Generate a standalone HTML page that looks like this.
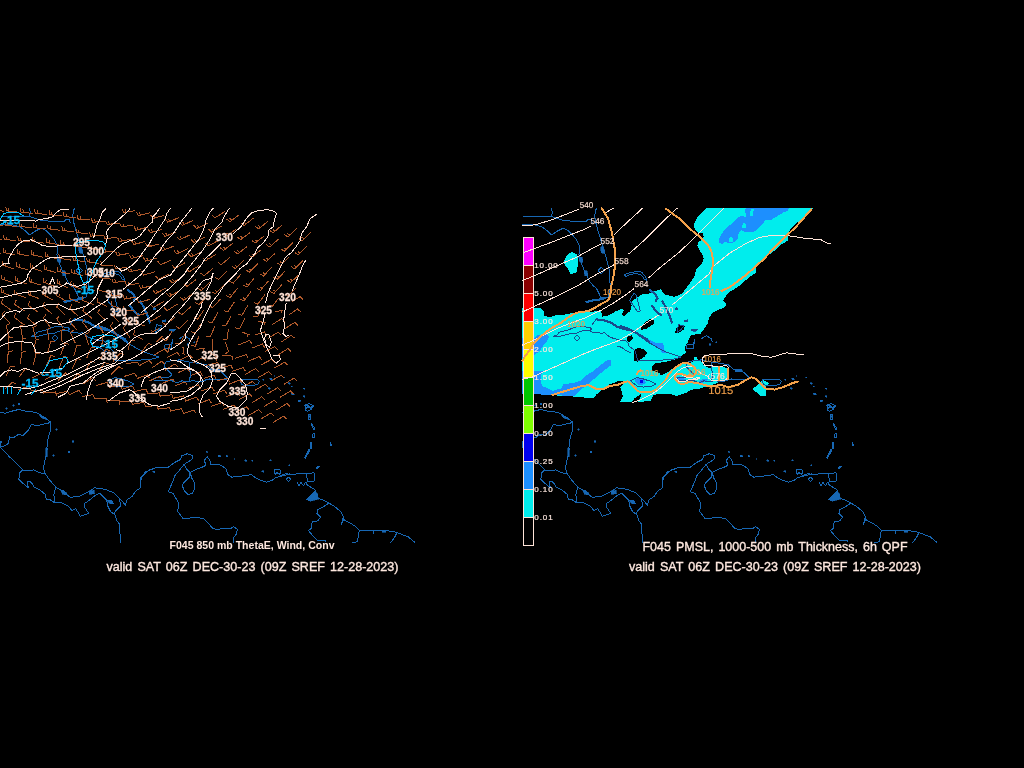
<!DOCTYPE html>
<html><head><meta charset="utf-8">
<style>
html,body{margin:0;padding:0;background:#000;width:1024px;height:768px;overflow:hidden}
svg{display:block;position:absolute;left:0;top:0}
text{font-family:"Liberation Sans",sans-serif;fill:#ffe9e0}
.m{font-family:"Liberation Mono",monospace;font-size:8px;fill:#ffe9e0}
.cap{font-size:12.5px;stroke:#ffe9e0;stroke-width:.35px;word-spacing:1.6px}
.capb{font-size:11px;font-weight:bold}
</style></head><body>
<svg width="1024" height="768" viewBox="0 0 1024 768">
<rect width="1024" height="768" fill="#000"/>
<g opacity="0.999" shape-rendering="crispEdges">
<defs><clipPath id="cl"><rect x="0" y="200" width="440" height="360"/></clipPath><clipPath id="cr"><rect x="522" y="200" width="440" height="360"/></clipPath></defs>
<g shape-rendering="crispEdges"><path fill="#00eeee" fill-rule="evenodd" d="M706.6,208 L813.9,208 L791.3,227.9 L790,229.4 L788.1,234.7 L788.1,240.2 L785.8,241.7 L779.5,245.8 L775.6,249.7 L770.2,253.8 L756.4,266.4 L755.6,273.1 L750,276.5 L745.7,280.3 L741.9,284.1 L734.3,289.2 L727.9,293 L722.8,300.6 L726,303.8 L725.4,307 L719,309.5 L712.7,312.7 L708.9,318.4 L707.6,323.5 L702.5,331.1 L700.3,333.8 L691.4,335.1 L688.9,338.9 L687.6,342.7 L685.1,346.5 L685.7,352.9 L681.2,356 L676.2,359.2 L666,361.7 L654.6,363.6 L651.4,366.8 L652,370.6 L659.7,373.2 L660.9,375.7 L667.3,372.5 L671.1,369.6 L676.2,366.8 L681.2,364 L688.9,363.3 L693.3,361.7 L693.9,357.3 L696.5,356.7 L697.8,359.8 L701.6,361.7 L704.1,365.5 L709.2,368.1 L718,366.5 L728,368 L727,379 L714.3,384 L707.9,385.9 L700.3,388.4 L691.4,389.7 L686.3,392.8 L676.2,396 L668.6,393.5 L653.3,394.7 L650.8,400.5 L638.1,402.4 L641.9,393.5 L634.3,398.6 L631.7,402.4 L620.3,401.7 L622.9,396 L620.3,387.1 L625.4,382 L624.1,380.8 L617.8,381.4 L608.9,384.4 L596.2,394.6 L593.6,398.4 L573.3,396.5 L551.7,395.2 L534,394 L522,394 L522,307.8 L534,307.8 L540.9,308.4 L543.5,310.9 L544.1,315.4 L549.2,317.3 L555.5,315.4 L563.2,314.8 L573.3,312.9 L591.1,312.2 L597.4,310.9 L601.2,311.6 L602.5,316.7 L608.9,315.4 L616.5,310.9 L621.6,309 L624.1,310.3 L621.6,314.8 L624.1,316 L630.4,310.9 L631.7,305.2 L630.4,302.7 L636.8,297.6 L641.9,294.5 L646.7,294.3 L656.8,290.5 L660.6,289.2 L664.4,294.3 L674.6,296.8 L682.2,293.6 L687.3,286.7 L691.1,281.6 L694.9,275.2 L696.2,268.9 L699,266.8 L702.2,263 L703.8,258.7 L702.2,254.4 L699.5,250.1 L697.4,245.8 L697.9,242.1 L701.1,240.4 L703.8,236.7 L702.7,233.5 L697.9,232.4 L694.7,229.7 L694.1,224.3 L695.7,220 L697.9,216.3 L701.1,213.6 L704.3,210.4ZM640.3,327.3 L649.2,319 L653.6,319.7 L654.3,323.5 L646.7,328.6 L641.6,329.8ZM675.9,329.2 L679.7,324.7 L684.7,326 L683.5,329.8 L677.1,333.6 L675.2,332.4ZM633.6,350.3 L638.1,347.8 L643.2,349 L647,352.9 L644.4,356.7 L640.6,359.2 L638.1,361.7 L633.6,360.5 L634.3,355.4ZM626.6,337 L631.7,335.1 L633,338.9 L629.2,342 L626.6,340.8Z"/><path fill="#00eeee" d="M572.3,251.8 L577.3,254.8 L578.1,263.1 L576.4,273.1 L570.6,273.9 L567.3,268.1 L563.2,262.3 L567.3,254.8Z"/><path fill="#00eeee" d="M763,379.7 L768.9,383 L766.4,386.4 L765.5,396.3 L761.4,396.3 L752.3,388.9 L758,384.7Z"/><path fill="#1e90ff" d="M745.7,208 L789.3,208 L787.3,211.25 L783.4,212.4 L778.75,215.2 L771.7,219.5 L764.7,220.6 L763.1,223.75 L760,226.5 L754.8,231.3 L749.5,232.4 L745.2,231.9 L740.9,230.2 L738.7,232.4 L738.2,237.2 L736.6,240.4 L732.3,243.1 L728,242.6 L724.7,242.1 L721.5,244.2 L719.4,242.6 L719.4,238.3 L721.5,234 L725.3,229.2 L730.1,224.9 L735.5,220 L739.8,216.3 L743.5,215.7 L745.2,218.4 L746.2,215.2 L745.2,211.4Z"/><path fill="#1e90ff" d="M522,338.2 L534,338.2 L537.8,335.1 L546.7,334.4 L549.2,337 L547.3,340.8 L542.9,345.9 L539,352.2 L534,354.8 L522,358Z"/><path fill="#1e90ff" d="M522,370.5 L543.5,370.5 L540.9,375.5 L541.6,385.7 L553,390.8 L561.9,388.2 L563.2,384.4 L574.6,382.5 L580.9,380.6 L586,375.5 L592.4,371.7 L598.7,366.7 L607.6,359.7 L611.4,360.3 L610.8,365.4 L602.5,371.7 L593.6,379.4 L588.6,384.4 L580.9,389.5 L574.6,395.9 L551.7,395.2 L534,394 L522,394Z"/><path fill="#1e90ff" d="M645.7,338.9 L649.5,339.5 L655.9,343.3 L662.2,342.7 L664.1,346.5 L663.5,349 L666,351.6 L666,353.5 L662.2,352.9 L659.7,349 L654.6,346.5 L649.5,342.7Z"/><path fill="#1e90ff" d="M635.5,378.9 L639.4,377.6 L644.4,379.5 L645.7,382.7 L643.2,384.6 L638.1,384.6 L634.9,382Z"/><path fill="#1e90ff" d="M676.2,377.6 L680,376.3 L683.8,378.2 L687.6,380.1 L683.8,381.4 L678.7,380.8 L676.2,379.5Z"/><path fill="#1e90ff" d="M699,380.8 L704.1,378.9 L707.9,379.5 L705.4,382 L700.3,383.3Z"/><path fill="#00eeee" d="M751.1,208.8 L753.7,209.3 L753.2,215.2 L751.1,216.8 L749.5,214.7 L750.5,211.4Z"/><path fill="#00eeee" d="M743.5,223.3 L746.2,223.8 L745.7,227.6 L742.5,228.1 L741.9,225.4Z"/><path fill="#00eeee" d="M730.7,236.7 L733.3,238.3 L732.8,242.1 L729,241.5 L728.8,238.8Z"/><rect x="639.5" y="380" width="3" height="2.6" fill="#0000ee"/></g>

<clipPath id="cq"><path d="M706.6,208 L813.9,208 L791.3,227.9 L790,229.4 L788.1,234.7 L788.1,240.2 L785.8,241.7 L779.5,245.8 L775.6,249.7 L770.2,253.8 L756.4,266.4 L755.6,273.1 L750,276.5 L745.7,280.3 L741.9,284.1 L734.3,289.2 L727.9,293 L722.8,300.6 L726,303.8 L725.4,307 L719,309.5 L712.7,312.7 L708.9,318.4 L707.6,323.5 L702.5,331.1 L700.3,333.8 L691.4,335.1 L688.9,338.9 L687.6,342.7 L685.1,346.5 L685.7,352.9 L681.2,356 L676.2,359.2 L666,361.7 L654.6,363.6 L651.4,366.8 L652,370.6 L659.7,373.2 L660.9,375.7 L667.3,372.5 L671.1,369.6 L676.2,366.8 L681.2,364 L688.9,363.3 L693.3,361.7 L693.9,357.3 L696.5,356.7 L697.8,359.8 L701.6,361.7 L704.1,365.5 L709.2,368.1 L718,366.5 L728,368 L727,379 L714.3,384 L707.9,385.9 L700.3,388.4 L691.4,389.7 L686.3,392.8 L676.2,396 L668.6,393.5 L653.3,394.7 L650.8,400.5 L638.1,402.4 L641.9,393.5 L634.3,398.6 L631.7,402.4 L620.3,401.7 L622.9,396 L620.3,387.1 L625.4,382 L624.1,380.8 L617.8,381.4 L608.9,384.4 L596.2,394.6 L593.6,398.4 L573.3,396.5 L551.7,395.2 L534,394 L522,394 L522,307.8 L534,307.8 L540.9,308.4 L543.5,310.9 L544.1,315.4 L549.2,317.3 L555.5,315.4 L563.2,314.8 L573.3,312.9 L591.1,312.2 L597.4,310.9 L601.2,311.6 L602.5,316.7 L608.9,315.4 L616.5,310.9 L621.6,309 L624.1,310.3 L621.6,314.8 L624.1,316 L630.4,310.9 L631.7,305.2 L630.4,302.7 L636.8,297.6 L641.9,294.5 L646.7,294.3 L656.8,290.5 L660.6,289.2 L664.4,294.3 L674.6,296.8 L682.2,293.6 L687.3,286.7 L691.1,281.6 L694.9,275.2 L696.2,268.9 L699,266.8 L702.2,263 L703.8,258.7 L702.2,254.4 L699.5,250.1 L697.4,245.8 L697.9,242.1 L701.1,240.4 L703.8,236.7 L702.7,233.5 L697.9,232.4 L694.7,229.7 L694.1,224.3 L695.7,220 L697.9,216.3 L701.1,213.6 L704.3,210.4ZM572.3,251.8 L577.3,254.8 L578.1,263.1 L576.4,273.1 L570.6,273.9 L567.3,268.1 L563.2,262.3 L567.3,254.8ZM763,379.7 L768.9,383 L766.4,386.4 L765.5,396.3 L761.4,396.3 L752.3,388.9 L758,384.7Z"/></clipPath><g clip-path="url(#cl)"><g fill="none" stroke="#1868b4" stroke-width="1" stroke-linejoin="round"><polyline points="0,412.3 5.7,413.2 11.3,411.3 18.9,409.4 26.4,411.3 35.9,412.3 40.6,415.1 45.3,417.9 50.1,421.7 51,426.4 50.1,432.1 48.2,437.8 47.2,445.3 46.3,454.8 44.4,462.3 43.5,468 45.3,473.7 49.1,479.3 53.8,485 56.7,487.8 62.3,490.7 66.1,494.5 70.8,497.3 79.3,496.3 85,493.5 90.7,490.7 94.5,487.8 100.1,488.4 105.8,489.7 113.4,492.6 119,498.2 122.8,502 125.6,505.8 126.6,500.1 132.2,496.3 136,490.7 140.7,487.8 140.7,481.2 142.6,475.6 147.4,471.8 150,469"/><polyline points="0,447.2 3.8,451 9.4,456.7 15.1,462.3 20.8,468 22.7,469.9 19.8,472.7 18.9,479.3 22.7,483.1 28.3,487.8 27.4,481.2 31.2,482.2 34,486.9 39.7,489.7 45.3,494.5 46.3,499.2 51,500.1 54.8,503 56.7,502 62.3,503 68,505.8 71.8,510.5 75.6,508.6 77.5,511.5 80.3,516.2 88.8,513.4 85,507.7 84.1,503.9 90.7,499.2 96.3,494.5 100.1,493.5 103,496.3 106.7,500.1 107.7,505.8 110.5,511.5 115.2,515.2 117.1,520.9 120,524.7 119,532.2 120.9,536 120,542.6"/><polyline points="50.1,422.7 45.3,423.6 37.8,425.5 31.2,424.6 28.3,430.2 22.7,435.9 18.9,434 13.2,437.8 9.4,436.8 8.5,443.5 3.8,446.3 0,447.2 0,440.6"/><polyline points="22.7,469.9 28.3,470.8 34,469.9 39.7,472.7 45.3,473.7"/><polyline points="55.7,486.9 53.8,494.5 54.8,503"/><polyline points="119,498.2 120.9,505.8 115.2,511.5 114.3,515.2"/><polyline points="140,483.1 140.9,477.5 145.7,471.8 150.4,469.9 157,467.1 162.7,467.1 168.3,467.1 174.9,462.3 180.6,459.5 181.6,455.7 187.2,453.8 192.9,455.7 192,459.5 187.2,462.3 184.4,464.2 186.3,469 190.1,472.7 196.7,469 202.3,467.1 206.1,465.2 204.2,460.5 207.1,456.7 209.9,460.5 210.8,464.2 215.6,464.2 221.2,465.2 226,469 227.8,474.6 231.6,477.1 238.2,476.5 245.8,475.6 251.5,474.6 255.2,477.5 260.9,480.3 266.6,482.2 272.2,480.3 276,477.5 283.6,475.6 290,473.7"/><polyline points="190.1,472.7 189.1,477.5 185.3,481.2 181.9,485 184.4,490.7 188.2,494.5 192,493.5 194.8,488.8 194.8,483.1 192,478.4 190.1,472.7"/><polyline points="184.4,464.2 179.7,469.9 174.9,475.6 172.1,483.1 168.3,491.6 173.1,493.5 175.9,498.2 178.7,503 177.8,511.5 180.6,515.2 182.5,518.1 189.1,518.1 196.7,517.1 204.2,519 208,522.8 212.7,528.5 217.5,529.4 223.1,528.5 230.7,528.5 233.5,526.6 237.3,529.4 236.3,534.1 233.5,537.9 233.5,542.6"/><polyline points="274.1,469.9 277,469 280.7,470.3 279.8,474.6 277,472.7 275.1,474.6 274.1,469.9"/><polyline points="280,475.6 285.7,473.7 291.3,474.6 298.9,473.7 306.4,473.7 314,472.7 314,481.2 307.4,481.2 306.4,484.1 310.2,486.9 314.9,489.7 315.9,494.5 317.8,498.2 323.5,500.1 329.1,503 334.8,506.7 340.5,511.5 343.3,516.2 344.2,520 349.9,522.8 355.6,526.6 359.3,530.4 366.9,530.4 374.5,530.7 383.9,530.7 393.4,531.3 400.9,534.1 408.5,537 415.1,542.6"/><polyline points="306.4,473.7 307.4,481.2"/><polyline points="286.2,479.3 288.5,477.1 290.8,479.3 288.5,481.6 286.2,479.3"/><polyline points="297,482.2 298.9,486 300.8,482.2 303.6,486 305.5,482.2"/><polyline points="329.1,503 323.5,506.7 317.8,509.6 316.8,513.4 320.6,517.1 317.8,520.9 312.1,521.9 311.2,528.5 308.3,530.4 313.1,536 317.8,540.7 325.3,540.7 326.3,542.6"/><polyline points="343.3,518.1 341.4,524.7"/><polyline points="359.3,530.4 358.4,536 357.5,541.7 351.8,542.6"/><polyline points="373.5,530.7 373.5,534.1"/><polyline points="397.1,532.2 394.3,537.9 390.5,542.6"/><polyline points="304.6,404.7 306.4,408.5 308.3,405.7 311.2,408.5 313.1,405.7 309.3,403.8 304.6,404.7"/><polyline points="308.3,414.2 310.2,414.7 310.2,419.8 308.3,418.9 308.3,414.2"/><polyline points="311.2,423.6 314.9,428.3 314,429.8 311.7,425.5 311.2,423.6"/><polyline points="312.5,433.6 314.4,433.6 314.4,437.4 312.5,437.4 312.5,433.6"/><polyline points="310.6,442.5 311.4,442.5 311.2,448.2 310.4,448.2 310.6,442.5"/><polyline points="309.3,449.1 304.6,457.6 305.5,458.2 309.8,450.1"/><polyline points="330.1,442.5 331.4,445.3 330.3,445.3 330.1,442.5"/><polyline points="315.9,468.4 318.7,466.1 319.3,466.9 316.8,469.1"/><polyline points="305,406.4 307.5,404.7 309.1,407.7 313.3,406 310.8,409.7 307.5,411.3 305,409.7 305,406.4"/><polyline points="241,379 247.7,379.5 257.6,379.8 259.3,381.5 257.6,384.8 247.7,385.6 241.9,384.8 240.2,381.5 241,379"/><polyline points="165.6,361.7 169.4,361.1 175.8,360.5 179.6,359.8 185.9,361.7 192.3,362.4 199.9,363.6 206.2,364.9 211.2,369 217.8,369.8 222.8,373.2 227.8,378.1 226.1,379.8 217.8,379.8 209.5,379 206.2,379.8 201.2,381.5 192.3,380.8 187.2,382 182.1,380.8 177,382.7 171.9,380.8 166.9,380.1 160.5,380.8 154.2,380.1 152.9,378.9 156.7,377.6 164.3,377.6 169.4,377 171.9,374.4 169.4,371.9 166.9,369.4 164.3,366.8 165.6,361.7"/><polyline points="190,362.4 189,368 191,374 189,381"/><polyline points="108.5,380.8 114.8,377.6 121.2,378.9 128.8,381.4 133.9,384 128.8,386.5 121.2,387.1 114.8,385.9 108.5,380.8"/><polyline points="70,325 74,319.3 82.5,320.4 88.9,322.6 95.3,326.9 101.8,329 108.2,330.1 114.7,333.3 121.1,337.6 128,343 136,348 144,352 152,354.5 159.2,357.3"/><polyline points="95.3,346.2 99.6,347.3 103.9,350.5 109.3,353.2"/><polyline points="30.9,336.5 35.2,334.9 37.3,332.2 41.6,331.2 45.9,330.1 52.4,327.4 57.7,326.3 63.1,326.9 67.4,327.4 69.6,328.5 68.5,330.1 64.2,330.1"/><polyline points="159.2,357.3 151,359.2 141,360 129,360.5 116,361 114.5,356 113.6,351.6 111.5,349.4 107.2,346.2 106.1,343 103.9,340.8 97.5,340.3 93.2,338.7 88.9,337.6 85.7,335.5 82.5,332.8 79.2,333.3 76,332.2 71.7,332.8 68.5,331.2 64.2,330.1 58,331.5 54,333.5 49,333.5 43,335 38,336.2 30.9,336.5"/><polyline points="52,338 55,335 58,338 55,341 52,338"/><polyline points="0.5,224.9 6.3,224.1 12.9,224.9 19.5,226.6 26.2,231.5 29.5,234.9 36.1,230.7 41.1,228.2 46.1,230.7 51.1,235.7 54.4,239.8 56.9,244.8 57.7,249.8 56.9,254.8 57.7,258.1 59.4,263.1 61.9,269.7 64.4,274.7 67.7,281.3 71,285.5 74.3,288 76.8,293 78.5,297.1 80.1,297.9 85.9,297.1 87.6,293 88.4,286.3 87.6,279.7 87.6,271.4 85.9,264.7 84.3,258.1 81.8,249.8 79.3,241.5 76.8,233.2 74.3,224.9 72.7,216.6 73.5,210 75.2,208.3"/><polyline points="0.5,216.6 29.5,216.6 30.3,212.5 29.5,208.3"/><polyline points="29.5,216.6 42.8,220.8 64.4,221.6 66,219.1 69.3,219.1 70.2,223.2"/><polyline points="79.3,267.2 82.6,270.6 79.3,273.9 76,270.6 79.3,267.2"/><polyline points="101.8,274.6 108.2,272.7 114.5,271.4 119.6,272.1 123.4,276.5 124.7,280.3 122.1,279 119.6,275.2 114.5,273.3 108.2,274.6 104.3,276.5 101.8,274.6"/><polyline points="107.5,300.6 112,293 114.5,295.5 118.3,310.8 115.8,312.1 110.7,304.4 107.5,300.6"/><polyline points="153.9,307.6 155.8,308.9 153.9,310.1 153.9,307.6"/><polyline points="156.4,324.7 161.5,326 158.9,329.8 155.1,332.4 156.4,324.7"/><polyline points="164.6,344.8 171.3,344 172.9,339.8 171.3,348.1 164.6,348.1 164.6,344.8"/><polyline points="178.8,339 184.6,335.7 189.5,339 190.4,342.3"/></g><g fill="none" stroke="#1868b4" stroke-width="2.2"><polyline points="73.9,319.3 82.5,320.4 88.9,322.6 95.3,326.9 101.8,329 108.2,330.1 114.7,333.3 121.1,337.6 128,343"/><polyline points="63.5,302.1 71,300.4 77.6,299.6 83.5,297.9"/><polyline points="127.2,289.8 132.3,293 135.5,298.1 133.5,301.9"/><polyline points="129.7,305.1 133.5,310.8 139.9,315.9"/><polyline points="139.9,300.6 143.7,307 147.5,315.9 150.1,323.5"/><polyline points="98,326 105.6,328.6 113.2,332.4 119.6,336.2 125.9,340"/><polyline points="169.1,329.8 175.4,330.5"/><polyline points="162.1,320.9 164.7,321.6"/></g><g fill="#1868b4" stroke="#1868b4" stroke-width=".6"><polygon points="60.5,490.3 63.3,490.3 67.1,493.5 66.1,494.8 62.3,494.1"/><polygon points="88.8,491.1 94.1,490.3 94.5,493.5 89.7,494.5"/><polygon points="106.7,500.1 112.4,500.5 114.3,503.9 109.6,503.5"/><polygon points="39.7,415.1 44.4,417 47.2,419.8 44.4,418.9 40.6,417.4"/><polygon points="45.9,448.2 47.6,448.2 47.2,456.7 45.9,456.7"/><polygon points="72,440.8 73.5,440.8 73.5,442.3 72,442.3"/><polygon points="68.2,451.2 69.7,451.2 69.7,452.7 68.2,452.7"/><polygon points="55.9,428.5 57.4,428.5 57.4,430 55.9,430"/><polygon points="52.7,454.6 54.2,454.6 54.2,456.1 52.7,456.1"/><polygon points="5.9,407.7 7.4,407.7 7.4,409.3 5.9,409.3"/><polygon points="12.5,404.9 14,404.9 14,406.4 12.5,406.4"/><polygon points="18.1,403 19.6,403 19.6,404.5 18.1,404.5"/><polygon points="0.2,441.2 1.7,441.2 1.7,442.7 0.2,442.7"/><polygon points="206.3,451.4 207.8,451.6 207.8,452.5 206.3,452.3"/><polygon points="218.2,455.3 220.5,455.5 220.5,456.9 218.2,456.7"/><polygon points="226,455.4 227.8,455.6 227.8,456.8 226,456.6"/><polygon points="233.9,458.5 235,458.7 235,459.3 233.9,459.2"/><polygon points="244.7,459.8 246.9,460.1 246.9,461.4 244.7,461.2"/><polygon points="251.6,460.3 253.2,460.5 253.2,461.4 251.6,461.2"/><polygon points="269.6,459.5 271.1,459.7 271.1,460.6 269.6,460.5"/><polygon points="261.9,470.7 263.7,470.9 263.7,472.1 261.9,471.9"/><polygon points="288.7,464.8 289.8,464.9 289.8,465.6 288.7,465.5"/><polygon points="152.5,471 154.7,471.2 154.7,472.6 152.5,472.4"/><polygon points="311.2,494.5 314.9,490.7 317.8,494.5 318.7,499.2 310.2,501.1 305.5,499.7"/><polygon points="342.3,518.1 345.2,520 343.3,520.9"/><polygon points="382,530 385.8,530 385.8,532.2 382,532.2"/><polygon points="298.3,400.4 299.6,400.4 299.6,401.7 298.3,401.7"/><polygon points="262.8,379.4 263.9,379.4 264.1,380.2 263.1,380.2"/><polygon points="269.6,378.2 271.7,378.2 272.3,379.8 270.1,379.8"/><polygon points="273.6,375.6 274.6,375.6 274.9,376.4 273.9,376.4"/><polygon points="283.7,377 284.5,377 284.7,377.6 283.9,377.6"/><polygon points="288,382.8 289.9,382.8 290.4,384.2 288.5,384.2"/><polygon points="291.2,386.1 292,386.1 292.2,386.7 291.4,386.7"/><polygon points="291.3,393 293.7,393 294.3,394.8 291.9,394.8"/><polygon points="299.2,400.1 300.5,400.1 300.8,401.1 299.5,401.1"/><polygon points="303.3,388.4 304.6,388.4 305,389.4 303.6,389.4"/><polygon points="303.1,395.8 304.7,395.8 305.1,397 303.5,397"/><polygon points="308,415.6 309.8,415.6 310.3,417 308.4,417"/><polygon points="268.1,387.7 270,387.7 270.4,389.1 268.6,389.1"/><polygon points="213,369 220,369.5 220,372 213,371.5"/><polygon points="56.9,257.3 60.2,257.3 61,262.3 57.7,262.3"/><polygon points="61.9,270.6 65.2,270.6 66,275.5 62.7,275.5"/><polygon points="78.5,246.5 81.8,246.5 83,253.1 79.6,253.1"/><polygon points="187.1,343.5 188.7,343.5 188.7,345.2 187.1,345.2"/><polygon points="193.7,341.5 194.9,341.5 194.9,342.7 193.7,342.7"/><polygon points="163,320.8 165.5,319.9 165.5,321.6 163,321.9"/><polygon points="170.5,329.9 174.6,329.6 174.6,330.9 170.5,331.2"/></g></g><g clip-path="url(#cr)"><g fill="none" stroke="#1868b4" stroke-width="1" stroke-linejoin="round"><polyline points="522,412.3 527.7,413.2 533.3,411.3 540.9,409.4 548.4,411.3 557.9,412.3 562.6,415.1 567.3,417.9 572.1,421.7 573,426.4 572.1,432.1 570.2,437.8 569.2,445.3 568.3,454.8 566.4,462.3 565.5,468 567.3,473.7 571.1,479.3 575.8,485 578.7,487.8 584.3,490.7 588.1,494.5 592.8,497.3 601.3,496.3 607,493.5 612.7,490.7 616.5,487.8 622.1,488.4 627.8,489.7 635.4,492.6 641,498.2 644.8,502 647.6,505.8 648.6,500.1 654.2,496.3 658,490.7 662.7,487.8 662.7,481.2 664.6,475.6 669.4,471.8 672,469"/><polyline points="522,447.2 525.8,451 531.4,456.7 537.1,462.3 542.8,468 544.7,469.9 541.8,472.7 540.9,479.3 544.7,483.1 550.3,487.8 549.4,481.2 553.2,482.2 556,486.9 561.7,489.7 567.3,494.5 568.3,499.2 573,500.1 576.8,503 578.7,502 584.3,503 590,505.8 593.8,510.5 597.6,508.6 599.5,511.5 602.3,516.2 610.8,513.4 607,507.7 606.1,503.9 612.7,499.2 618.3,494.5 622.1,493.5 625,496.3 628.7,500.1 629.7,505.8 632.5,511.5 637.2,515.2 639.1,520.9 642,524.7 641,532.2 642.9,536 642,542.6"/><polyline points="572.1,422.7 567.3,423.6 559.8,425.5 553.2,424.6 550.3,430.2 544.7,435.9 540.9,434 535.2,437.8 531.4,436.8 530.5,443.5 525.8,446.3 522,447.2 522,440.6"/><polyline points="544.7,469.9 550.3,470.8 556,469.9 561.7,472.7 567.3,473.7"/><polyline points="577.7,486.9 575.8,494.5 576.8,503"/><polyline points="641,498.2 642.9,505.8 637.2,511.5 636.3,515.2"/><polyline points="662,483.1 662.9,477.5 667.7,471.8 672.4,469.9 679,467.1 684.7,467.1 690.3,467.1 696.9,462.3 702.6,459.5 703.6,455.7 709.2,453.8 714.9,455.7 714,459.5 709.2,462.3 706.4,464.2 708.3,469 712.1,472.7 718.7,469 724.3,467.1 728.1,465.2 726.2,460.5 729.1,456.7 731.9,460.5 732.8,464.2 737.6,464.2 743.2,465.2 748,469 749.8,474.6 753.6,477.1 760.2,476.5 767.8,475.6 773.5,474.6 777.2,477.5 782.9,480.3 788.6,482.2 794.2,480.3 798,477.5 805.6,475.6 812,473.7"/><polyline points="712.1,472.7 711.1,477.5 707.3,481.2 703.9,485 706.4,490.7 710.2,494.5 714,493.5 716.8,488.8 716.8,483.1 714,478.4 712.1,472.7"/><polyline points="706.4,464.2 701.7,469.9 696.9,475.6 694.1,483.1 690.3,491.6 695.1,493.5 697.9,498.2 700.7,503 699.8,511.5 702.6,515.2 704.5,518.1 711.1,518.1 718.7,517.1 726.2,519 730,522.8 734.7,528.5 739.5,529.4 745.1,528.5 752.7,528.5 755.5,526.6 759.3,529.4 758.3,534.1 755.5,537.9 755.5,542.6"/><polyline points="796.1,469.9 799,469 802.7,470.3 801.8,474.6 799,472.7 797.1,474.6 796.1,469.9"/><polyline points="802,475.6 807.7,473.7 813.3,474.6 820.9,473.7 828.4,473.7 836,472.7 836,481.2 829.4,481.2 828.4,484.1 832.2,486.9 836.9,489.7 837.9,494.5 839.8,498.2 845.5,500.1 851.1,503 856.8,506.7 862.5,511.5 865.3,516.2 866.2,520 871.9,522.8 877.6,526.6 881.3,530.4 888.9,530.4 896.5,530.7 905.9,530.7 915.4,531.3 922.9,534.1 930.5,537 937.1,542.6"/><polyline points="828.4,473.7 829.4,481.2"/><polyline points="808.2,479.3 810.5,477.1 812.8,479.3 810.5,481.6 808.2,479.3"/><polyline points="819,482.2 820.9,486 822.8,482.2 825.6,486 827.5,482.2"/><polyline points="851.1,503 845.5,506.7 839.8,509.6 838.8,513.4 842.6,517.1 839.8,520.9 834.1,521.9 833.2,528.5 830.3,530.4 835.1,536 839.8,540.7 847.3,540.7 848.3,542.6"/><polyline points="865.3,518.1 863.4,524.7"/><polyline points="881.3,530.4 880.4,536 879.5,541.7 873.8,542.6"/><polyline points="895.5,530.7 895.5,534.1"/><polyline points="919.1,532.2 916.3,537.9 912.5,542.6"/><polyline points="826.6,404.7 828.4,408.5 830.3,405.7 833.2,408.5 835.1,405.7 831.3,403.8 826.6,404.7"/><polyline points="830.3,414.2 832.2,414.7 832.2,419.8 830.3,418.9 830.3,414.2"/><polyline points="833.2,423.6 836.9,428.3 836,429.8 833.7,425.5 833.2,423.6"/><polyline points="834.5,433.6 836.4,433.6 836.4,437.4 834.5,437.4 834.5,433.6"/><polyline points="832.6,442.5 833.4,442.5 833.2,448.2 832.4,448.2 832.6,442.5"/><polyline points="831.3,449.1 826.6,457.6 827.5,458.2 831.8,450.1"/><polyline points="852.1,442.5 853.4,445.3 852.3,445.3 852.1,442.5"/><polyline points="837.9,468.4 840.7,466.1 841.3,466.9 838.8,469.1"/><polyline points="827,406.4 829.5,404.7 831.1,407.7 835.3,406 832.8,409.7 829.5,411.3 827,409.7 827,406.4"/><polyline points="763,379 769.7,379.5 779.6,379.8 781.3,381.5 779.6,384.8 769.7,385.6 763.9,384.8 762.2,381.5 763,379"/><polyline points="687.6,361.7 691.4,361.1 697.8,360.5 701.6,359.8 707.9,361.7 714.3,362.4 721.9,363.6 728.2,364.9 733.2,369 739.8,369.8 744.8,373.2 749.8,378.1 748.1,379.8 739.8,379.8 731.5,379 728.2,379.8 723.2,381.5 714.3,380.8 709.2,382 704.1,380.8 699,382.7 693.9,380.8 688.9,380.1 682.5,380.8 676.2,380.1 674.9,378.9 678.7,377.6 686.3,377.6 691.4,377 693.9,374.4 691.4,371.9 688.9,369.4 686.3,366.8 687.6,361.7"/><polyline points="712,362.4 711,368 713,374 711,381"/><polyline points="630.5,380.8 636.8,377.6 643.2,378.9 650.8,381.4 655.9,384 650.8,386.5 643.2,387.1 636.8,385.9 630.5,380.8"/><polyline points="592,325 596,319.3 604.5,320.4 610.9,322.6 617.3,326.9 623.8,329 630.2,330.1 636.7,333.3 643.1,337.6 650,343 658,348 666,352 674,354.5 681.2,357.3"/><polyline points="617.3,346.2 621.6,347.3 625.9,350.5 631.3,353.2"/><polyline points="552.9,336.5 557.2,334.9 559.3,332.2 563.6,331.2 567.9,330.1 574.4,327.4 579.7,326.3 585.1,326.9 589.4,327.4 591.6,328.5 590.5,330.1 586.2,330.1"/><polyline points="681.2,357.3 673,359.2 663,360 651,360.5 638,361 636.5,356 635.6,351.6 633.5,349.4 629.2,346.2 628.1,343 625.9,340.8 619.5,340.3 615.2,338.7 610.9,337.6 607.7,335.5 604.5,332.8 601.2,333.3 598,332.2 593.7,332.8 590.5,331.2 586.2,330.1 580,331.5 576,333.5 571,333.5 565,335 560,336.2 552.9,336.5"/><polyline points="574,338 577,335 580,338 577,341 574,338"/><polyline points="522.5,224.9 528.3,224.1 534.9,224.9 541.5,226.6 548.2,231.5 551.5,234.9 558.1,230.7 563.1,228.2 568.1,230.7 573.1,235.7 576.4,239.8 578.9,244.8 579.7,249.8 578.9,254.8 579.7,258.1 581.4,263.1 583.9,269.7 586.4,274.7 589.7,281.3 593,285.5 596.3,288 598.8,293 600.5,297.1 602.1,297.9 607.9,297.1 609.6,293 610.4,286.3 609.6,279.7 609.6,271.4 607.9,264.7 606.3,258.1 603.8,249.8 601.3,241.5 598.8,233.2 596.3,224.9 594.7,216.6 595.5,210 597.2,208.3"/><polyline points="522.5,216.6 551.5,216.6 552.3,212.5 551.5,208.3"/><polyline points="551.5,216.6 564.8,220.8 586.4,221.6 588,219.1 591.3,219.1 592.2,223.2"/><polyline points="601.3,267.2 604.6,270.6 601.3,273.9 598,270.6 601.3,267.2"/><polyline points="623.8,274.6 630.2,272.7 636.5,271.4 641.6,272.1 645.4,276.5 646.7,280.3 644.1,279 641.6,275.2 636.5,273.3 630.2,274.6 626.3,276.5 623.8,274.6"/><polyline points="629.5,300.6 634,293 636.5,295.5 640.3,310.8 637.8,312.1 632.7,304.4 629.5,300.6"/><polyline points="675.9,307.6 677.8,308.9 675.9,310.1 675.9,307.6"/><polyline points="678.4,324.7 683.5,326 680.9,329.8 677.1,332.4 678.4,324.7"/><polyline points="686.6,344.8 693.3,344 694.9,339.8 693.3,348.1 686.6,348.1 686.6,344.8"/><polyline points="700.8,339 706.6,335.7 711.5,339 712.4,342.3"/></g><g fill="none" stroke="#1868b4" stroke-width="2.2"><polyline points="595.9,319.3 604.5,320.4 610.9,322.6 617.3,326.9 623.8,329 630.2,330.1 636.7,333.3 643.1,337.6 650,343"/><polyline points="585.5,302.1 593,300.4 599.6,299.6 605.5,297.9"/><polyline points="649.2,289.8 654.3,293 657.5,298.1 655.5,301.9"/><polyline points="651.7,305.1 655.5,310.8 661.9,315.9"/><polyline points="661.9,300.6 665.7,307 669.5,315.9 672.1,323.5"/><polyline points="620,326 627.6,328.6 635.2,332.4 641.6,336.2 647.9,340"/><polyline points="691.1,329.8 697.4,330.5"/><polyline points="684.1,320.9 686.7,321.6"/></g><g fill="#1868b4" stroke="#1868b4" stroke-width=".6"><polygon points="582.5,490.3 585.3,490.3 589.1,493.5 588.1,494.8 584.3,494.1"/><polygon points="610.8,491.1 616.1,490.3 616.5,493.5 611.7,494.5"/><polygon points="628.7,500.1 634.4,500.5 636.3,503.9 631.6,503.5"/><polygon points="561.7,415.1 566.4,417 569.2,419.8 566.4,418.9 562.6,417.4"/><polygon points="567.9,448.2 569.6,448.2 569.2,456.7 567.9,456.7"/><polygon points="594,440.8 595.5,440.8 595.5,442.3 594,442.3"/><polygon points="590.2,451.2 591.7,451.2 591.7,452.7 590.2,452.7"/><polygon points="577.9,428.5 579.4,428.5 579.4,430 577.9,430"/><polygon points="574.7,454.6 576.2,454.6 576.2,456.1 574.7,456.1"/><polygon points="527.9,407.7 529.4,407.7 529.4,409.3 527.9,409.3"/><polygon points="534.5,404.9 536,404.9 536,406.4 534.5,406.4"/><polygon points="540.1,403 541.6,403 541.6,404.5 540.1,404.5"/><polygon points="522.2,441.2 523.7,441.2 523.7,442.7 522.2,442.7"/><polygon points="728.3,451.4 729.8,451.6 729.8,452.5 728.3,452.3"/><polygon points="740.2,455.3 742.5,455.5 742.5,456.9 740.2,456.7"/><polygon points="748,455.4 749.8,455.6 749.8,456.8 748,456.6"/><polygon points="755.9,458.5 757,458.7 757,459.3 755.9,459.2"/><polygon points="766.7,459.8 768.9,460.1 768.9,461.4 766.7,461.2"/><polygon points="773.6,460.3 775.2,460.5 775.2,461.4 773.6,461.2"/><polygon points="791.6,459.5 793.1,459.7 793.1,460.6 791.6,460.5"/><polygon points="783.9,470.7 785.7,470.9 785.7,472.1 783.9,471.9"/><polygon points="810.7,464.8 811.8,464.9 811.8,465.6 810.7,465.5"/><polygon points="674.5,471 676.7,471.2 676.7,472.6 674.5,472.4"/><polygon points="833.2,494.5 836.9,490.7 839.8,494.5 840.7,499.2 832.2,501.1 827.5,499.7"/><polygon points="864.3,518.1 867.2,520 865.3,520.9"/><polygon points="904,530 907.8,530 907.8,532.2 904,532.2"/><polygon points="820.3,400.4 821.6,400.4 821.6,401.7 820.3,401.7"/><polygon points="784.8,379.4 785.9,379.4 786.1,380.2 785.1,380.2"/><polygon points="791.6,378.2 793.7,378.2 794.3,379.8 792.1,379.8"/><polygon points="795.6,375.6 796.6,375.6 796.9,376.4 795.9,376.4"/><polygon points="805.7,377 806.5,377 806.7,377.6 805.9,377.6"/><polygon points="810,382.8 811.9,382.8 812.4,384.2 810.5,384.2"/><polygon points="813.2,386.1 814,386.1 814.2,386.7 813.4,386.7"/><polygon points="813.3,393 815.7,393 816.3,394.8 813.9,394.8"/><polygon points="821.2,400.1 822.5,400.1 822.8,401.1 821.5,401.1"/><polygon points="825.3,388.4 826.6,388.4 827,389.4 825.6,389.4"/><polygon points="825.1,395.8 826.7,395.8 827.1,397 825.5,397"/><polygon points="830,415.6 831.8,415.6 832.3,417 830.4,417"/><polygon points="790.1,387.7 792,387.7 792.4,389.1 790.6,389.1"/><polygon points="735,369 742,369.5 742,372 735,371.5"/><polygon points="578.9,257.3 582.2,257.3 583,262.3 579.7,262.3"/><polygon points="583.9,270.6 587.2,270.6 588,275.5 584.7,275.5"/><polygon points="600.5,246.5 603.8,246.5 605,253.1 601.6,253.1"/><polygon points="709.1,343.5 710.7,343.5 710.7,345.2 709.1,345.2"/><polygon points="715.7,341.5 716.9,341.5 716.9,342.7 715.7,342.7"/><polygon points="685,320.8 687.5,319.9 687.5,321.6 685,321.9"/><polygon points="692.5,329.9 696.6,329.6 696.6,330.9 692.5,331.2"/></g></g><g clip-path="url(#cq)"><g fill="none" stroke="#1b4a8c" stroke-width="1" stroke-linejoin="round"><polyline points="522,412.3 527.7,413.2 533.3,411.3 540.9,409.4 548.4,411.3 557.9,412.3 562.6,415.1 567.3,417.9 572.1,421.7 573,426.4 572.1,432.1 570.2,437.8 569.2,445.3 568.3,454.8 566.4,462.3 565.5,468 567.3,473.7 571.1,479.3 575.8,485 578.7,487.8 584.3,490.7 588.1,494.5 592.8,497.3 601.3,496.3 607,493.5 612.7,490.7 616.5,487.8 622.1,488.4 627.8,489.7 635.4,492.6 641,498.2 644.8,502 647.6,505.8 648.6,500.1 654.2,496.3 658,490.7 662.7,487.8 662.7,481.2 664.6,475.6 669.4,471.8 672,469"/><polyline points="522,447.2 525.8,451 531.4,456.7 537.1,462.3 542.8,468 544.7,469.9 541.8,472.7 540.9,479.3 544.7,483.1 550.3,487.8 549.4,481.2 553.2,482.2 556,486.9 561.7,489.7 567.3,494.5 568.3,499.2 573,500.1 576.8,503 578.7,502 584.3,503 590,505.8 593.8,510.5 597.6,508.6 599.5,511.5 602.3,516.2 610.8,513.4 607,507.7 606.1,503.9 612.7,499.2 618.3,494.5 622.1,493.5 625,496.3 628.7,500.1 629.7,505.8 632.5,511.5 637.2,515.2 639.1,520.9 642,524.7 641,532.2 642.9,536 642,542.6"/><polyline points="572.1,422.7 567.3,423.6 559.8,425.5 553.2,424.6 550.3,430.2 544.7,435.9 540.9,434 535.2,437.8 531.4,436.8 530.5,443.5 525.8,446.3 522,447.2 522,440.6"/><polyline points="544.7,469.9 550.3,470.8 556,469.9 561.7,472.7 567.3,473.7"/><polyline points="577.7,486.9 575.8,494.5 576.8,503"/><polyline points="641,498.2 642.9,505.8 637.2,511.5 636.3,515.2"/><polyline points="662,483.1 662.9,477.5 667.7,471.8 672.4,469.9 679,467.1 684.7,467.1 690.3,467.1 696.9,462.3 702.6,459.5 703.6,455.7 709.2,453.8 714.9,455.7 714,459.5 709.2,462.3 706.4,464.2 708.3,469 712.1,472.7 718.7,469 724.3,467.1 728.1,465.2 726.2,460.5 729.1,456.7 731.9,460.5 732.8,464.2 737.6,464.2 743.2,465.2 748,469 749.8,474.6 753.6,477.1 760.2,476.5 767.8,475.6 773.5,474.6 777.2,477.5 782.9,480.3 788.6,482.2 794.2,480.3 798,477.5 805.6,475.6 812,473.7"/><polyline points="712.1,472.7 711.1,477.5 707.3,481.2 703.9,485 706.4,490.7 710.2,494.5 714,493.5 716.8,488.8 716.8,483.1 714,478.4 712.1,472.7"/><polyline points="706.4,464.2 701.7,469.9 696.9,475.6 694.1,483.1 690.3,491.6 695.1,493.5 697.9,498.2 700.7,503 699.8,511.5 702.6,515.2 704.5,518.1 711.1,518.1 718.7,517.1 726.2,519 730,522.8 734.7,528.5 739.5,529.4 745.1,528.5 752.7,528.5 755.5,526.6 759.3,529.4 758.3,534.1 755.5,537.9 755.5,542.6"/><polyline points="796.1,469.9 799,469 802.7,470.3 801.8,474.6 799,472.7 797.1,474.6 796.1,469.9"/><polyline points="802,475.6 807.7,473.7 813.3,474.6 820.9,473.7 828.4,473.7 836,472.7 836,481.2 829.4,481.2 828.4,484.1 832.2,486.9 836.9,489.7 837.9,494.5 839.8,498.2 845.5,500.1 851.1,503 856.8,506.7 862.5,511.5 865.3,516.2 866.2,520 871.9,522.8 877.6,526.6 881.3,530.4 888.9,530.4 896.5,530.7 905.9,530.7 915.4,531.3 922.9,534.1 930.5,537 937.1,542.6"/><polyline points="828.4,473.7 829.4,481.2"/><polyline points="808.2,479.3 810.5,477.1 812.8,479.3 810.5,481.6 808.2,479.3"/><polyline points="819,482.2 820.9,486 822.8,482.2 825.6,486 827.5,482.2"/><polyline points="851.1,503 845.5,506.7 839.8,509.6 838.8,513.4 842.6,517.1 839.8,520.9 834.1,521.9 833.2,528.5 830.3,530.4 835.1,536 839.8,540.7 847.3,540.7 848.3,542.6"/><polyline points="865.3,518.1 863.4,524.7"/><polyline points="881.3,530.4 880.4,536 879.5,541.7 873.8,542.6"/><polyline points="895.5,530.7 895.5,534.1"/><polyline points="919.1,532.2 916.3,537.9 912.5,542.6"/><polyline points="826.6,404.7 828.4,408.5 830.3,405.7 833.2,408.5 835.1,405.7 831.3,403.8 826.6,404.7"/><polyline points="830.3,414.2 832.2,414.7 832.2,419.8 830.3,418.9 830.3,414.2"/><polyline points="833.2,423.6 836.9,428.3 836,429.8 833.7,425.5 833.2,423.6"/><polyline points="834.5,433.6 836.4,433.6 836.4,437.4 834.5,437.4 834.5,433.6"/><polyline points="832.6,442.5 833.4,442.5 833.2,448.2 832.4,448.2 832.6,442.5"/><polyline points="831.3,449.1 826.6,457.6 827.5,458.2 831.8,450.1"/><polyline points="852.1,442.5 853.4,445.3 852.3,445.3 852.1,442.5"/><polyline points="837.9,468.4 840.7,466.1 841.3,466.9 838.8,469.1"/><polyline points="827,406.4 829.5,404.7 831.1,407.7 835.3,406 832.8,409.7 829.5,411.3 827,409.7 827,406.4"/><polyline points="763,379 769.7,379.5 779.6,379.8 781.3,381.5 779.6,384.8 769.7,385.6 763.9,384.8 762.2,381.5 763,379"/><polyline points="687.6,361.7 691.4,361.1 697.8,360.5 701.6,359.8 707.9,361.7 714.3,362.4 721.9,363.6 728.2,364.9 733.2,369 739.8,369.8 744.8,373.2 749.8,378.1 748.1,379.8 739.8,379.8 731.5,379 728.2,379.8 723.2,381.5 714.3,380.8 709.2,382 704.1,380.8 699,382.7 693.9,380.8 688.9,380.1 682.5,380.8 676.2,380.1 674.9,378.9 678.7,377.6 686.3,377.6 691.4,377 693.9,374.4 691.4,371.9 688.9,369.4 686.3,366.8 687.6,361.7"/><polyline points="712,362.4 711,368 713,374 711,381"/><polyline points="630.5,380.8 636.8,377.6 643.2,378.9 650.8,381.4 655.9,384 650.8,386.5 643.2,387.1 636.8,385.9 630.5,380.8"/><polyline points="592,325 596,319.3 604.5,320.4 610.9,322.6 617.3,326.9 623.8,329 630.2,330.1 636.7,333.3 643.1,337.6 650,343 658,348 666,352 674,354.5 681.2,357.3"/><polyline points="617.3,346.2 621.6,347.3 625.9,350.5 631.3,353.2"/><polyline points="552.9,336.5 557.2,334.9 559.3,332.2 563.6,331.2 567.9,330.1 574.4,327.4 579.7,326.3 585.1,326.9 589.4,327.4 591.6,328.5 590.5,330.1 586.2,330.1"/><polyline points="681.2,357.3 673,359.2 663,360 651,360.5 638,361 636.5,356 635.6,351.6 633.5,349.4 629.2,346.2 628.1,343 625.9,340.8 619.5,340.3 615.2,338.7 610.9,337.6 607.7,335.5 604.5,332.8 601.2,333.3 598,332.2 593.7,332.8 590.5,331.2 586.2,330.1 580,331.5 576,333.5 571,333.5 565,335 560,336.2 552.9,336.5"/><polyline points="574,338 577,335 580,338 577,341 574,338"/><polyline points="522.5,224.9 528.3,224.1 534.9,224.9 541.5,226.6 548.2,231.5 551.5,234.9 558.1,230.7 563.1,228.2 568.1,230.7 573.1,235.7 576.4,239.8 578.9,244.8 579.7,249.8 578.9,254.8 579.7,258.1 581.4,263.1 583.9,269.7 586.4,274.7 589.7,281.3 593,285.5 596.3,288 598.8,293 600.5,297.1 602.1,297.9 607.9,297.1 609.6,293 610.4,286.3 609.6,279.7 609.6,271.4 607.9,264.7 606.3,258.1 603.8,249.8 601.3,241.5 598.8,233.2 596.3,224.9 594.7,216.6 595.5,210 597.2,208.3"/><polyline points="522.5,216.6 551.5,216.6 552.3,212.5 551.5,208.3"/><polyline points="551.5,216.6 564.8,220.8 586.4,221.6 588,219.1 591.3,219.1 592.2,223.2"/><polyline points="601.3,267.2 604.6,270.6 601.3,273.9 598,270.6 601.3,267.2"/><polyline points="623.8,274.6 630.2,272.7 636.5,271.4 641.6,272.1 645.4,276.5 646.7,280.3 644.1,279 641.6,275.2 636.5,273.3 630.2,274.6 626.3,276.5 623.8,274.6"/><polyline points="629.5,300.6 634,293 636.5,295.5 640.3,310.8 637.8,312.1 632.7,304.4 629.5,300.6"/><polyline points="675.9,307.6 677.8,308.9 675.9,310.1 675.9,307.6"/><polyline points="678.4,324.7 683.5,326 680.9,329.8 677.1,332.4 678.4,324.7"/><polyline points="686.6,344.8 693.3,344 694.9,339.8 693.3,348.1 686.6,348.1 686.6,344.8"/><polyline points="700.8,339 706.6,335.7 711.5,339 712.4,342.3"/></g><g fill="none" stroke="#1b4a8c" stroke-width="2.2"><polyline points="595.9,319.3 604.5,320.4 610.9,322.6 617.3,326.9 623.8,329 630.2,330.1 636.7,333.3 643.1,337.6 650,343"/><polyline points="585.5,302.1 593,300.4 599.6,299.6 605.5,297.9"/><polyline points="649.2,289.8 654.3,293 657.5,298.1 655.5,301.9"/><polyline points="651.7,305.1 655.5,310.8 661.9,315.9"/><polyline points="661.9,300.6 665.7,307 669.5,315.9 672.1,323.5"/><polyline points="620,326 627.6,328.6 635.2,332.4 641.6,336.2 647.9,340"/><polyline points="691.1,329.8 697.4,330.5"/><polyline points="684.1,320.9 686.7,321.6"/></g><g fill="#1b4a8c" stroke="#1b4a8c" stroke-width=".6"><polygon points="582.5,490.3 585.3,490.3 589.1,493.5 588.1,494.8 584.3,494.1"/><polygon points="610.8,491.1 616.1,490.3 616.5,493.5 611.7,494.5"/><polygon points="628.7,500.1 634.4,500.5 636.3,503.9 631.6,503.5"/><polygon points="561.7,415.1 566.4,417 569.2,419.8 566.4,418.9 562.6,417.4"/><polygon points="567.9,448.2 569.6,448.2 569.2,456.7 567.9,456.7"/><polygon points="594,440.8 595.5,440.8 595.5,442.3 594,442.3"/><polygon points="590.2,451.2 591.7,451.2 591.7,452.7 590.2,452.7"/><polygon points="577.9,428.5 579.4,428.5 579.4,430 577.9,430"/><polygon points="574.7,454.6 576.2,454.6 576.2,456.1 574.7,456.1"/><polygon points="527.9,407.7 529.4,407.7 529.4,409.3 527.9,409.3"/><polygon points="534.5,404.9 536,404.9 536,406.4 534.5,406.4"/><polygon points="540.1,403 541.6,403 541.6,404.5 540.1,404.5"/><polygon points="522.2,441.2 523.7,441.2 523.7,442.7 522.2,442.7"/><polygon points="728.3,451.4 729.8,451.6 729.8,452.5 728.3,452.3"/><polygon points="740.2,455.3 742.5,455.5 742.5,456.9 740.2,456.7"/><polygon points="748,455.4 749.8,455.6 749.8,456.8 748,456.6"/><polygon points="755.9,458.5 757,458.7 757,459.3 755.9,459.2"/><polygon points="766.7,459.8 768.9,460.1 768.9,461.4 766.7,461.2"/><polygon points="773.6,460.3 775.2,460.5 775.2,461.4 773.6,461.2"/><polygon points="791.6,459.5 793.1,459.7 793.1,460.6 791.6,460.5"/><polygon points="783.9,470.7 785.7,470.9 785.7,472.1 783.9,471.9"/><polygon points="810.7,464.8 811.8,464.9 811.8,465.6 810.7,465.5"/><polygon points="674.5,471 676.7,471.2 676.7,472.6 674.5,472.4"/><polygon points="833.2,494.5 836.9,490.7 839.8,494.5 840.7,499.2 832.2,501.1 827.5,499.7"/><polygon points="864.3,518.1 867.2,520 865.3,520.9"/><polygon points="904,530 907.8,530 907.8,532.2 904,532.2"/><polygon points="820.3,400.4 821.6,400.4 821.6,401.7 820.3,401.7"/><polygon points="784.8,379.4 785.9,379.4 786.1,380.2 785.1,380.2"/><polygon points="791.6,378.2 793.7,378.2 794.3,379.8 792.1,379.8"/><polygon points="795.6,375.6 796.6,375.6 796.9,376.4 795.9,376.4"/><polygon points="805.7,377 806.5,377 806.7,377.6 805.9,377.6"/><polygon points="810,382.8 811.9,382.8 812.4,384.2 810.5,384.2"/><polygon points="813.2,386.1 814,386.1 814.2,386.7 813.4,386.7"/><polygon points="813.3,393 815.7,393 816.3,394.8 813.9,394.8"/><polygon points="821.2,400.1 822.5,400.1 822.8,401.1 821.5,401.1"/><polygon points="825.3,388.4 826.6,388.4 827,389.4 825.6,389.4"/><polygon points="825.1,395.8 826.7,395.8 827.1,397 825.5,397"/><polygon points="830,415.6 831.8,415.6 832.3,417 830.4,417"/><polygon points="790.1,387.7 792,387.7 792.4,389.1 790.6,389.1"/><polygon points="735,369 742,369.5 742,372 735,371.5"/><polygon points="578.9,257.3 582.2,257.3 583,262.3 579.7,262.3"/><polygon points="583.9,270.6 587.2,270.6 588,275.5 584.7,275.5"/><polygon points="600.5,246.5 603.8,246.5 605,253.1 601.6,253.1"/><polygon points="709.1,343.5 710.7,343.5 710.7,345.2 709.1,345.2"/><polygon points="715.7,341.5 716.9,341.5 716.9,342.7 715.7,342.7"/><polygon points="685,320.8 687.5,319.9 687.5,321.6 685,321.9"/><polygon points="692.5,329.9 696.6,329.6 696.6,330.9 692.5,331.2"/></g></g>


<g shape-rendering="crispEdges">
<rect x="524" y="238" width="9" height="28" fill="#ff00ff"/>
<rect x="524" y="266" width="9" height="28" fill="#8b0000"/>
<rect x="524" y="294" width="9" height="28" fill="#ff0000"/>
<rect x="524" y="322" width="9" height="28" fill="#ffd000"/>
<rect x="524" y="350" width="9" height="28" fill="#ffff00"/>
<rect x="524" y="378" width="9" height="28" fill="#00c800"/>
<rect x="524" y="406" width="9" height="28" fill="#7fff00"/>
<rect x="524" y="434" width="9" height="28" fill="#0000f0"/>
<rect x="524" y="462" width="9" height="28" fill="#1e90ff"/>
<rect x="524" y="490" width="9" height="28" fill="#00eeee"/>
<rect x="524" y="518" width="9" height="27" fill="#000"/>
<rect x="524" y="265" width="9" height="1" fill="#ffe4d8"/>
<rect x="524" y="293" width="9" height="1" fill="#ffe4d8"/>
<rect x="524" y="321" width="9" height="1" fill="#ffe4d8"/>
<rect x="524" y="349" width="9" height="1" fill="#ffe4d8"/>
<rect x="524" y="377" width="9" height="1" fill="#ffe4d8"/>
<rect x="524" y="405" width="9" height="1" fill="#ffe4d8"/>
<rect x="524" y="433" width="9" height="1" fill="#ffe4d8"/>
<rect x="524" y="461" width="9" height="1" fill="#ffe4d8"/>
<rect x="524" y="489" width="9" height="1" fill="#ffe4d8"/>
<rect x="524" y="517" width="9" height="1" fill="#ffe4d8"/>
<rect x="523.5" y="237.5" width="10" height="308" fill="none" stroke="#ffe4d8" stroke-width="1"/>
</g>
<g style="font-family:'Liberation Sans';font-size:8px;fill:#ffe9e0;stroke:#ffe9e0;stroke-width:.2px">
<text x="534.3" y="267.7" textLength="23.5" lengthAdjust="spacing">10.00</text>
<text x="534.3" y="295.7" textLength="18.3" lengthAdjust="spacing">5.00</text>
<text x="534.3" y="323.7" textLength="18.3" lengthAdjust="spacing">3.00</text>
<text x="534.3" y="351.7" textLength="18.3" lengthAdjust="spacing">2.00</text>
<text x="534.3" y="379.7" textLength="18.3" lengthAdjust="spacing">1.50</text>
<text x="534.3" y="407.7" textLength="18.3" lengthAdjust="spacing">1.00</text>
<text x="534.3" y="435.7" textLength="18.3" lengthAdjust="spacing">0.50</text>
<text x="534.3" y="463.7" textLength="18.3" lengthAdjust="spacing">0.25</text>
<text x="534.3" y="491.7" textLength="18.3" lengthAdjust="spacing">0.10</text>
<text x="534.3" y="519.7" textLength="18.3" lengthAdjust="spacing">0.01</text>
</g>
<path d="M224.7,211.7L215.0,217.8l-3.1,-3.0M239.1,214.8L229.8,221.7l-3.3,-2.7M231.9,220.2l-2.3,-1.9M253.5,218.0L244.1,225.5l-3.4,-2.6M246.2,223.9l-2.4,-1.8M267.9,221.3L258.6,228.9l-3.5,-2.6M260.6,227.3l-2.4,-1.8M282.2,224.8L273.3,232.8l-3.6,-2.4M275.2,231.1l-2.5,-1.7M296.5,228.4L287.9,236.8l-3.7,-2.3M289.8,235.0l-2.6,-1.6M310.8,232.1L302.3,240.6l-3.7,-2.2M304.1,238.8l-2.6,-1.5M135.4,210.6L123.6,212.6l-1.7,-3.9M126.2,212.2l-1.2,-2.8M149.9,212.9L138.2,215.6l-2.0,-3.8M140.7,215.0l-1.4,-2.7M164.3,215.2L152.9,218.6l-2.2,-3.7M155.3,217.9l-1.5,-2.6M178.7,217.7L167.7,222.1l-2.5,-3.5M170.1,221.2l-1.8,-2.4M193.0,220.4L182.2,225.5l-2.7,-3.3M184.5,224.4l-1.9,-2.3M207.4,223.2L196.6,228.5l-2.8,-3.3M199.0,227.3l-1.9,-2.3M221.7,226.1L211.4,232.0l-3.0,-3.1M213.7,230.7l-2.1,-2.2M236.0,229.1L226.5,236.2l-3.3,-2.7M228.6,234.7l-2.3,-1.9M250.3,232.3L240.8,239.7l-3.4,-2.6M242.9,238.1l-2.4,-1.8M264.5,235.6L255.1,243.0l-3.4,-2.6M257.1,241.4l-2.4,-1.8M278.7,239.0L269.7,247.0l-3.5,-2.4M271.6,245.2l-2.5,-1.7M292.8,242.6L284.3,251.1l-3.7,-2.2M286.2,249.2l-2.6,-1.6M307.0,246.3L298.5,254.8l-3.7,-2.2M300.3,253.0l-2.6,-1.5M3.8,211.2L-8.1,209.5l-0.4,-4.3M-5.5,209.9l-0.3,-3.0M18.2,212.2L6.3,210.8l-0.5,-4.3M8.9,211.1l-0.4,-3.0M32.7,213.4L20.7,212.0l-0.6,-4.3M23.3,212.3l-0.4,-3.0M47.1,214.6L35.2,213.2l-0.5,-4.3M37.7,213.5l-0.4,-3.0M61.5,216.0L49.6,214.7l-0.6,-4.3M52.2,215.0l-0.4,-3.0M75.9,217.5L64.1,216.7l-0.7,-4.2M66.7,216.9l-0.5,-3.0M90.3,219.2L78.3,219.5l-1.1,-4.1M80.9,219.4l-0.8,-2.9M104.6,221.0L92.7,222.4l-1.5,-4.0M95.3,222.1l-1.1,-2.8M119.0,223.0L107.1,224.6l-1.6,-4.0M109.6,224.3l-1.1,-2.8M133.3,225.0L121.4,227.0l-1.7,-3.9M124.0,226.6l-1.2,-2.8M147.6,227.2L135.9,230.2l-2.0,-3.8M138.5,229.6l-1.4,-2.6M161.9,229.6L150.3,232.8l-2.1,-3.7M152.8,232.1l-1.5,-2.6M176.1,232.1L164.9,236.4l-2.5,-3.5M167.4,235.5l-1.7,-2.5M190.4,234.7L179.5,239.8l-2.7,-3.3M181.8,238.7l-1.9,-2.3M204.6,237.4L193.7,242.5l-2.7,-3.3M196.1,241.4l-1.9,-2.3M218.7,240.3L208.2,246.0l-2.9,-3.2M210.5,244.8l-2.0,-2.2M232.9,243.3L223.5,250.4l-3.4,-2.7M225.6,248.9l-2.3,-1.9M247.0,246.5L237.7,254.0l-3.4,-2.6M239.7,252.4l-2.4,-1.8M261.1,249.7L251.8,257.3l-3.4,-2.6M253.8,255.6l-2.4,-1.8M275.2,253.2L266.4,261.3l-3.6,-2.3M268.3,259.6l-2.5,-1.6M289.2,256.7L280.7,265.2l-3.7,-2.2M282.5,263.3l-2.6,-1.6M303.2,260.4L294.6,268.8l-3.7,-2.3M296.5,266.9l-2.6,-1.6M2.9,225.6L-9.0,223.9l-0.4,-4.3M-6.4,224.3l-0.3,-3.0M17.2,226.6L5.3,225.3l-0.6,-4.3M7.8,225.5l-0.4,-3.0M31.5,227.7L19.5,226.4l-0.6,-4.3M22.1,226.7l-0.4,-3.0M45.8,229.0L33.8,227.6l-0.6,-4.3M36.4,227.9l-0.4,-3.0M60.0,230.3L48.1,228.8l-0.5,-4.3M50.7,229.1l-0.3,-3.0M74.3,231.9L62.4,230.4l-0.5,-4.3M65.0,230.7l-0.4,-3.0M88.5,233.5L76.6,232.7l-0.7,-4.2M79.1,232.8l-0.5,-3.0M102.8,235.3L90.8,236.1l-1.3,-4.1M93.4,235.9l-0.9,-2.9M117.0,237.2L105.1,238.8l-1.6,-4.0M107.6,238.5l-1.1,-2.8M131.1,239.3L119.4,241.5l-1.8,-3.9M121.9,241.0l-1.3,-2.7M145.3,241.5L133.7,244.5l-2.1,-3.8M136.2,243.9l-1.4,-2.6M159.5,243.8L147.9,247.0l-2.1,-3.7M150.4,246.3l-1.5,-2.6M173.6,246.2L162.4,250.5l-2.4,-3.5M164.8,249.5l-1.7,-2.5M187.7,248.8L176.9,254.0l-2.7,-3.3M179.2,252.9l-1.9,-2.3M201.8,251.5L191.0,256.8l-2.8,-3.3M193.3,255.7l-1.9,-2.3M215.8,254.4L205.7,260.6l-3.1,-3.0M208.0,259.2l-2.1,-2.1M229.8,257.4L221.2,264.8l-3.5,-2.5M243.8,260.5L235.5,268.6l-3.6,-2.3M237.3,266.8l-2.5,-1.6M257.8,263.8L249.5,272.2l-3.7,-2.2M251.3,270.4l-2.6,-1.5M271.7,267.1L263.6,276.0l-3.8,-2.1M265.3,274.0l-2.6,-1.4M285.6,270.6L277.3,279.3l-3.7,-2.2M279.1,277.4l-2.6,-1.5M299.5,274.3L290.6,282.4l-3.6,-2.4M292.5,280.6l-2.5,-1.7M2.0,239.9L-9.8,237.8l-0.3,-4.3M-7.3,238.2l-0.2,-3.0M16.1,240.8L4.2,239.3l-0.5,-4.3M6.8,239.6l-0.3,-3.0M30.3,241.9L18.4,240.6l-0.6,-4.3M21.0,240.8l-0.4,-3.0M44.5,243.2L32.6,241.5l-0.5,-4.3M35.1,241.9l-0.3,-3.0M58.6,244.5L46.7,242.7l-0.4,-4.3M49.3,243.1l-0.3,-3.0M72.7,246.0L60.8,244.4l-0.4,-4.3M63.4,244.7l-0.3,-3.0M86.8,247.7L74.9,246.1l-0.5,-4.3M77.5,246.4l-0.3,-3.0M100.9,249.4L88.9,248.7l-0.8,-4.2M91.5,248.8l-0.5,-3.0M115.0,251.4L103.2,252.2l-1.3,-4.1M105.8,252.0l-0.9,-2.9M129.0,253.4L117.3,255.4l-1.7,-3.9M119.9,255.0l-1.2,-2.7M143.1,255.6L131.4,258.5l-2.0,-3.8M133.9,257.8l-1.4,-2.6M157.1,257.9L145.6,261.2l-2.2,-3.7M148.1,260.5l-1.5,-2.6M171.1,260.3L160.5,264.7l-2.6,-3.5M185.0,262.8L174.9,268.4l-2.9,-3.2M199.0,265.5L189.3,271.8l-3.1,-2.9M212.9,268.4L204.2,275.7l-3.5,-2.5M226.8,271.3L218.8,279.5l-3.7,-2.2M240.7,274.4L233.2,283.2l-3.9,-1.9M254.5,277.6L247.0,287.0l-3.9,-1.8M248.6,285.0l-2.7,-1.3M268.3,281.0L260.6,290.2l-3.9,-1.9M262.3,288.2l-2.7,-1.3M282.1,284.5L274.0,293.4l-3.8,-2.0M275.8,291.5l-2.7,-1.4M295.8,288.1L288.4,295.9l-3.7,-2.1M1.1,254.0L-10.3,251.0l0.0,-4.3M-7.8,251.7l0.0,-3.0M15.1,254.9L3.4,252.4l-0.1,-4.3M5.9,252.9l-0.1,-3.0M29.1,256.0L17.4,253.6l-0.2,-4.3M19.9,254.1l-0.1,-3.0M43.2,257.2L31.4,254.7l-0.1,-4.3M34.0,255.2l-0.1,-3.0M57.2,258.6L45.4,256.3l-0.2,-4.3M47.9,256.8l-0.2,-3.0M71.1,260.1L59.3,258.3l-0.4,-4.3M61.8,258.7l-0.3,-3.0M85.1,261.7L73.2,260.0l-0.4,-4.3M75.8,260.4l-0.3,-3.0M99.1,263.5L87.2,261.8l-0.5,-4.3M89.8,262.2l-0.3,-3.0M113.0,265.3L101.7,265.1l-0.9,-4.2M126.9,267.4L115.6,268.8l-1.5,-4.0M140.8,269.5L129.3,271.8l-1.8,-3.9M131.9,271.3l-1.3,-2.7M154.7,271.8L143.7,275.1l-2.2,-3.7M168.6,274.2L158.3,279.2l-2.8,-3.3M182.4,276.7L172.4,282.9l-3.1,-3.0M174.6,281.5l-2.1,-2.1M196.2,279.4L187.1,286.4l-3.4,-2.7M210.0,282.2L201.6,290.6l-3.7,-2.2M203.4,288.8l-2.6,-1.5M223.8,285.1L215.5,293.8l-3.7,-2.1M217.3,291.9l-2.6,-1.5M237.5,288.2L230.2,297.4l-3.9,-1.8M231.8,295.4l-2.7,-1.2M251.2,291.4L244.0,300.9l-4.0,-1.7M245.5,298.9l-2.8,-1.2M264.9,294.7L257.6,304.2l-3.9,-1.7M278.5,298.1L272.5,306.3l-4.0,-1.6M292.1,301.7L300.2,296.6l3.1,3.0M0.2,267.9L-10.8,264.0l0.4,-4.3M-8.3,264.9l0.3,-3.0M14.1,268.9L2.6,265.3l0.3,-4.3M5.1,266.1l0.2,-3.0M28.0,270.0L16.5,266.6l0.2,-4.3M19.0,267.3l0.1,-3.0M41.9,271.2L30.4,267.7l0.2,-4.3M32.9,268.5l0.1,-3.0M55.7,272.5L44.3,269.2l0.2,-4.3M46.8,269.9l0.1,-3.0M69.6,274.0L57.9,271.2l-0.0,-4.3M60.5,271.8l-0.0,-3.0M83.4,275.6L71.8,272.8l-0.0,-4.3M74.3,273.4l-0.0,-3.0M97.3,277.3L85.9,274.4l0.0,-4.3M88.4,275.1l0.0,-3.0M111.1,279.2L100.0,277.8l-0.5,-4.3M124.9,281.2L113.2,282.5l-1.5,-4.0M115.8,282.2l-1.0,-2.8M138.6,283.3L126.8,285.4l-1.8,-3.9M129.4,285.0l-1.2,-2.7M152.4,285.6L140.7,288.4l-2.0,-3.8M143.3,287.8l-1.4,-2.7M166.1,288.0L155.7,293.5l-2.9,-3.2M158.0,292.3l-2.0,-2.2M179.8,290.5L169.5,296.6l-3.0,-3.1M171.7,295.3l-2.1,-2.1M193.5,293.1L183.8,300.2l-3.3,-2.8M185.9,298.7l-2.3,-1.9M207.2,295.9L199.0,304.7l-3.8,-2.1M220.8,298.8L212.5,307.5l-3.7,-2.1M234.4,301.8L227.8,311.9l-4.1,-1.4M248.0,305.0L242.0,315.2l-4.1,-1.2M261.5,308.3L257.6,316.9l-4.2,-0.8M275.0,311.7L283.1,310.4M281.1,310.7l1.0,2.4M288.5,315.2L297.6,309.0l3.2,2.9M-0.7,281.8L-11.5,277.2l0.7,-4.2M-9.1,278.2l0.5,-3.0M13.1,282.7L1.7,278.9l0.3,-4.3M4.2,279.8l0.2,-3.0M26.8,283.8L15.3,280.6l0.1,-4.3M17.8,281.3l0.1,-3.0M40.6,285.0L29.1,281.6l0.2,-4.3M31.6,282.3l0.1,-3.0M54.3,286.3L43.3,282.0l0.6,-4.3M45.7,282.9l0.4,-3.0M68.1,287.8L57.2,283.3l0.6,-4.3M59.6,284.3l0.4,-3.0M81.8,289.4L70.6,285.1l0.5,-4.3M73.0,286.0l0.4,-3.0M95.5,291.1L84.2,287.0l0.5,-4.3M86.7,287.9l0.3,-3.0M109.2,293.0L98.3,289.8l0.2,-4.3M122.8,294.9L111.6,295.3l-1.2,-4.1M136.5,297.0L124.6,299.0l-1.7,-3.9M127.2,298.6l-1.2,-2.7M150.1,299.3L138.8,302.3l-2.1,-3.8M163.7,301.6L153.4,307.4l-2.9,-3.1M177.3,304.1L167.2,310.6l-3.1,-3.0M190.8,306.7L181.9,314.7l-3.5,-2.4M204.3,309.5L197.6,319.1l-4.0,-1.6M217.9,312.4L212.1,322.9l-4.2,-1.1M231.3,315.4L225.7,325.9l-4.2,-1.1M244.8,318.5L239.4,328.9l-4.2,-1.0M258.2,321.8L266.4,322.3M264.4,322.1l0.5,2.6M271.6,325.1L281.6,318.6l3.2,2.9M284.9,328.6L294.8,322.3l3.1,3.0M-1.6,295.5L-11.8,290.0l1.1,-4.2M-9.5,291.2l0.8,-2.9M12.1,296.4L1.0,291.9l0.6,-4.3M3.4,292.8l0.4,-3.0M25.7,297.5L14.3,293.9l0.3,-4.3M16.7,294.7l0.2,-3.0M39.3,298.7L28.1,294.5l0.5,-4.3M30.5,295.4l0.3,-3.0M52.9,300.0L42.6,294.4l1.1,-4.2M44.9,295.6l0.8,-2.9M66.5,301.4L56.5,295.6l1.2,-4.1M58.7,296.9l0.8,-2.9M80.1,303.0L69.1,298.4l0.7,-4.2M93.7,304.7L82.5,300.4l0.5,-4.3M107.2,306.6L97.1,301.9l0.8,-4.2M120.8,308.5L111.3,305.3l0.3,-4.3M134.3,310.6L124.4,309.9l-0.7,-4.2M147.8,312.8L137.9,315.6l-2.1,-3.7M161.3,315.2L150.9,321.2l-3.0,-3.1M174.7,317.6L165.4,324.8l-3.4,-2.7M188.1,320.2L179.4,328.5l-3.6,-2.3M201.6,323.0L195.3,333.0l-4.1,-1.3M214.9,325.8L210.4,336.9l-4.3,-0.6M228.3,328.8L227.3,338.9l-4.3,0.7M241.6,331.9L249.6,335.0M247.8,334.3l-0.3,2.6M254.9,335.1L264.4,332.0l2.3,3.6M268.1,338.4L278.3,332.1l3.1,3.0M281.4,341.9L291.4,335.3l3.2,2.9M11.1,310.0L1.2,303.2l1.5,-4.0M24.6,311.1L14.6,304.3l1.5,-4.0M38.1,312.2L28.2,305.4l1.5,-4.0M51.6,313.5L42.6,306.1l1.9,-3.9M65.0,315.0L56.7,307.0l2.1,-3.7M78.5,316.5L69.7,308.4l2.1,-3.8M91.9,318.2L82.8,310.9l1.8,-3.9M105.4,320.0L97.7,312.9l2.1,-3.8M118.8,322.0L112.0,314.4l2.4,-3.6M132.2,324.1L124.7,317.6l2.0,-3.8M145.5,326.2L136.2,323.1l0.4,-4.3M158.9,328.6L150.7,332.7M152.5,331.8l-1.7,-2.0M172.2,331.0L166.3,340.8l-4.1,-1.2M185.5,333.6L179.7,344.1l-4.2,-1.1M198.8,336.3L195.5,346.1l-4.3,-0.3M212.0,339.1L212.0,351.1l-4.2,1.0M225.3,342.0L228.5,351.8l-3.6,2.3M238.4,345.1L249.5,340.4l2.6,3.4M251.6,348.3L262.3,344.0l2.5,3.5M264.7,351.6L274.8,346.6l2.8,3.3M277.9,355.1L287.9,348.6l3.1,2.9M10.1,323.4L2.0,314.9l2.3,-3.6M23.5,324.5L14.0,317.1l1.7,-3.9M36.8,325.7L27.5,318.2l1.8,-3.9M50.2,327.0L43.2,318.0l2.7,-3.4M63.5,328.4L56.7,318.9l2.8,-3.3M76.9,329.9L68.9,320.9l2.4,-3.5M90.2,331.6L82.6,322.3l2.6,-3.5M103.5,333.4L98.7,324.2l3.2,-2.8M116.8,335.3L110.2,325.9l2.8,-3.2M130.0,337.4L123.1,328.1l2.7,-3.3M143.3,339.5L133.7,334.7l0.9,-4.2M156.5,341.8L162.7,335.9M161.2,337.3l2.2,1.4M169.7,344.3L167.8,353.3M168.2,351.3l-2.6,0.1M182.9,346.8L184.1,355.0M183.8,353.1l-2.4,1.0M196.0,349.5L205.0,348.1M203.0,348.4l1.0,2.4M209.2,352.3L217.1,357.4l-1.4,4.1M222.3,355.2L232.5,356.2l0.6,4.3M235.3,358.2L246.1,354.7l2.3,3.6M248.4,361.4L259.1,356.4l2.7,3.3M261.4,364.7L271.9,359.2l2.9,3.2M274.4,368.1L284.6,362.2l3.0,3.1M9.1,336.8L6.2,325.6l3.8,-2.1M22.4,337.8L20.5,326.0l4.0,-1.7M35.6,339.0L33.0,327.6l3.8,-1.9M48.8,340.2L47.4,329.1l4.0,-1.6M62.1,341.7L61.0,330.4l4.1,-1.4M75.3,343.2L70.3,332.8l3.3,-2.7M88.5,344.8L85.4,334.4l3.7,-2.2M101.6,346.6L103.0,336.2l4.3,-0.5M114.8,348.5L113.5,338.5l4.0,-1.6M127.9,350.6L130.5,340.9l4.3,0.1M141.1,352.7L148.3,343.3l3.9,1.7M154.2,355.0L164.4,349.0l3.0,3.1M167.2,357.4L177.1,352.5l2.8,3.3M180.3,359.9L189.7,355.0l2.9,3.2M193.3,362.6L203.1,357.5l2.8,3.2M206.3,365.3L217.7,362.7l1.9,3.8M219.3,368.2L230.9,365.3l2.0,3.8M232.2,371.2L243.1,367.5l2.3,3.6M245.2,374.4L255.6,368.5l3.0,3.1M258.1,377.6L268.5,371.7l3.0,3.1M270.9,381.0L281.3,375.1l3.0,3.1M283.7,384.5L293.9,378.1l3.1,3.0M8.2,350.0L8.3,338.0l4.2,-1.0M21.3,351.0L22.2,339.0l4.2,-0.7M34.4,352.1L35.3,340.2l4.2,-0.7M47.5,353.4L50.6,341.8l4.3,0.1M60.6,354.8L64.9,343.6l4.3,0.5M73.7,356.3L76.9,345.0l4.3,0.1M86.8,358.0L91.1,347.4l4.3,0.6M99.8,359.7L105.7,349.3l4.1,1.2M112.8,361.6L120.0,353.2l3.9,1.9M125.9,363.6L137.8,362.1l1.5,4.0M138.9,365.8L149.1,360.5l2.8,3.2M151.8,368.0L161.7,361.2l3.2,2.9M164.8,370.4L174.8,364.0l3.1,3.0M177.7,372.9L187.1,368.5l2.7,3.3M190.6,375.5L200.3,372.1l2.4,3.6M203.5,378.3L214.2,375.5l2.1,3.8M216.4,381.1L227.4,378.1l2.1,3.8M229.2,384.1L239.9,379.9l2.5,3.5M242.0,387.2L252.5,381.4l2.9,3.1M254.8,390.4L265.1,384.3l3.0,3.1M267.5,393.8L277.8,387.7l3.0,3.1M280.2,397.2L290.4,391.0l3.1,3.0M7.2,363.0L8.3,351.5l4.3,-0.6M20.2,364.1L21.7,352.2l4.3,-0.5M33.2,365.2L35.9,353.9l4.3,-0.0M46.2,366.5L50.8,355.6l4.2,0.7M59.2,367.8L63.7,356.7l4.3,0.6M72.1,369.3L76.9,358.6l4.2,0.7M85.1,371.0L91.1,361.1l4.1,1.3M98.0,372.7L104.4,362.6l4.1,1.4M110.9,374.6L118.9,366.6l3.7,2.2M123.8,376.6L134.5,373.1l2.3,3.6M136.7,378.7L147.2,374.8l2.4,3.6M149.5,380.9L160.0,376.4l2.6,3.4M162.4,383.3L172.7,379.0l2.6,3.5M175.2,385.7L185.1,382.0l2.4,3.5M188.0,388.3L198.4,384.8l2.3,3.6M200.7,391.1L211.9,387.2l2.3,3.6M213.4,393.9L224.5,390.1l2.3,3.6M226.2,396.9L236.8,392.2l2.6,3.4M238.8,399.9L249.2,393.8l3.0,3.1M251.5,403.1L261.7,396.8l3.1,3.0M264.1,406.4L274.4,400.3l3.0,3.0M276.7,409.9L286.9,403.6l3.1,3.0M6.2,376.0L10.2,366.3l4.3,0.6M19.1,377.0L25.5,368.6l3.9,1.7M32.0,378.1L41.8,373.1l2.8,3.2M44.9,379.4L55.2,374.9l2.6,3.4M57.7,380.7L65.7,373.0l3.7,2.3M70.6,382.2L77.7,374.0l3.8,2.0M83.4,383.8L92.4,377.7l3.2,2.9M96.2,385.6L107.1,382.3l2.2,3.7M109.0,387.4L120.1,384.9l1.9,3.8M121.8,389.4L132.3,386.1l2.2,3.7M134.5,391.5L145.7,389.0l1.9,3.8M147.2,393.7L159.2,392.9l1.3,4.1M160.0,396.0L171.9,394.8l1.5,4.0M172.6,398.5L183.5,395.8l2.0,3.8M185.3,401.1L196.6,397.2l2.3,3.6M197.9,403.7L209.2,399.7l2.4,3.6M210.6,406.6L221.8,402.5l2.4,3.6M223.1,409.5L234.0,405.0l2.6,3.4M235.7,412.5L246.3,406.8l2.9,3.2M248.2,415.7L258.6,409.6l3.0,3.1M260.7,419.0L271.1,412.9l3.0,3.1M273.2,422.4L283.5,416.2l3.0,3.0M5.3,388.8L12.8,382.0l3.6,2.4M18.1,389.8L28.6,386.3l2.3,3.6M30.8,390.9L42.8,390.3l1.3,4.1M43.6,392.2L55.6,392.0l1.1,4.2M56.3,393.5L67.8,391.3l1.8,3.9M69.0,395.0L78.8,390.4l2.7,3.3M81.7,396.6L92.9,394.6l1.7,3.9M94.4,398.3L106.4,399.0l0.8,4.2M107.1,400.1L119.1,400.8l0.8,4.2M119.7,402.1L131.1,400.7l1.5,4.0M132.4,404.2L143.9,402.5l1.6,4.0M145.0,406.4L157.0,405.7l1.3,4.1M157.6,408.7L169.5,407.8l1.4,4.1M170.1,411.1L181.3,408.8l1.9,3.9M182.7,413.7L193.9,410.0l2.3,3.6" fill="none" stroke="#b05a2c" stroke-width="1"/><polyline fill="none" stroke="#ffe4d8" stroke-width="1"  points="0,220 10.7,220 29,220 35.4,221.1 39.7,219.5 47.3,218.4 52.6,216.8 55.9,213.1 60.2,209.8 68.8,209.1"/><polyline fill="none" stroke="#ffe4d8" stroke-width="1"  points="0,266.8 4.3,263.5 9.1,263.5 8.6,258.7 11.8,253.3 14,249 18.3,244.2 23.6,240.4 31.2,239.9 36.5,242.1 43,245.8 50.5,246.4 60.2,245.8 72,245.3"/><polyline fill="none" stroke="#ffe4d8" stroke-width="1"  points="93.5,238.3 95.6,230.8 96.7,225.4 99.9,219 102.1,212.5 105.8,208.8"/><polyline fill="none" stroke="#ffe4d8" stroke-width="1"  points="0,287.2 10,285.5 21.6,283 26.6,279.7 27.9,274.8 31.2,269.5 37.6,265.2 45.1,259.8 50.5,257.6 60.2,257.1 69.8,256.6 85.9,256.6"/><polyline fill="none" stroke="#ffe4d8" stroke-width="1"  points="105.4,244.7 106.4,241.5 107.5,237.2 106.4,231.9 108.6,228.6 114,223.3 119.3,219 129,210.4 129.5,208.2"/><polyline fill="none" stroke="#ffe4d8" stroke-width="1"  points="0,297.9 10,295.5 21.6,293 41.5,290.5"/><polyline fill="none" stroke="#ffe4d8" stroke-width="1"  points="49.8,284 52.8,278 54.8,284"/><polyline fill="none" stroke="#ffe4d8" stroke-width="1"  points="58.1,288 64.7,284.7 66.4,283 73,285.5 78,286.3 86.3,283.8 93,278 96.3,273.5"/><polyline fill="none" stroke="#ffe4d8" stroke-width="1"  points="100,265.2 105.4,259.8 110.7,254.4 117.2,248 122.6,243.7 127.9,241.5 134.4,239.4 139.7,236.2 143,231.9 147.3,226.5 152.1,222.2 152.6,216.8 155.9,213.6 159.6,208.2"/><polyline fill="none" stroke="#ffe4d8" stroke-width="1"  points="0,320.1 6.4,312.6 16.1,310.4 19.3,312.1 23.6,308.8 35.4,308.3 47.3,304.5 53.7,304 60.2,305.1 68.8,309.4 75.2,309.4 85.9,306.2 91.3,301.9 96.7,295.4 97.8,289 101,282.5 103.1,278.5"/><polyline fill="none" stroke="#ffe4d8" stroke-width="1"  points="116.1,266.2 118.8,268.4 121.5,271.1 125.8,269.5 132.2,265.2 137.6,259.8 143,252.3 149.4,243.7 151.6,239.4 155.9,232.9 160.2,226.5 164.5,220 167.1,213.1 170.4,208.2"/><polyline fill="none" stroke="#ffe4d8" stroke-width="1"  points="0,340.5 5.4,335.2 14,327.6 32.2,325.5 39.7,321.2 45.1,319.6 48.3,322.3 60.2,324.4 68.8,322.3 77.3,319 85.9,314.7 94.5,308.3 103.1,302.9 108,299.7"/><polyline fill="none" stroke="#ffe4d8" stroke-width="1"  points="122.8,289.6 132.8,281.3 140.8,274.8 143,271.6 147.3,266.2 151.6,260.9 155.9,254.4 160.2,250.1 163.4,244.7 167.7,239.4 173,234 177.3,227.6 181.6,221.1 185.9,215.7 191.8,208.2"/><polyline fill="none" stroke="#ffe4d8" stroke-width="1"  points="60.2,344.8 75.2,337.3 85.9,331.9 94.5,326.6 107.4,318"/><polyline fill="none" stroke="#ffe4d8" stroke-width="1"  points="127.8,306.2 137.8,297.9 149.4,288 159.4,279.7 170.9,274.8 173,271.6 177.3,266.2 181.6,260.9 185.9,255.5 190.2,250.1 194.5,244.7 198.8,239.4 202.1,232.9 204.7,226.5 206.3,219 210,212 213.2,208.2"/><polyline fill="none" stroke="#ffe4d8" stroke-width="1"  points="91.3,344.8 96.7,340.5 110,331.9 121,324"/><polyline fill="none" stroke="#ffe4d8" stroke-width="1"  points="141,313 150,305 160,296 170,288 183.8,274.8 188.1,268.4 192.4,263 196.7,257.6 202.1,251.2 206.3,244.7 210,239.4 213.2,232.9 215.4,228.6 221.8,222.2 224,216.8 229.3,208.2"/><polyline fill="none" stroke="#ffe4d8" stroke-width="1"  points="220.7,243.7 216.4,248 210,254.4 205.3,258.7 201,265.2 196.7,270.5 193.5,274.8 184,286 172,298 160,309 149,318 138,326 124.5,334 112,341 100,347 88,353 76,359 66,364"/><polyline fill="none" stroke="#ffe4d8" stroke-width="1"  points="233,234 241,226.5 246.3,218.5 251.5,213 259.4,210.2 268,209.8 274.5,211.4 276.6,213.6 274.5,219 273.4,226.5 268,230.8 268,236.2 263.7,242.6 257.3,248 255.1,253.3 250.8,258.7 246.5,264.1 240.1,268.4 235.8,273.8 231.4,278 224.8,284.7 218.1,294.6 211.5,302.9 206.5,312.9 203.2,320 199.9,328.3 194.9,333.3 188.3,344.9 187.4,353.2 191.6,359.8 203.2,364.8 208.2,368.1 211.5,373.1 212.3,381.4 209.8,388.1 203.2,394.7 199.9,403 199.1,411.3 202.4,417.1"/><polyline fill="none" stroke="#ffe4d8" stroke-width="1"  points="119.5,351.5 126,346 132.2,339.8 134.4,337.7 140.8,334.5 147.3,333.4 155.9,333.4 160.2,330.2 165.5,325.9 169.8,320.5 174.1,315.1 179.5,309.7 185.9,302.2 191.3,295.8 194.5,291.5 198.8,286.1 203.1,280.7 210,278.6 211.5,278 213.2,273 210.7,283 206.5,291.3"/><polyline fill="none" stroke="#ffe4d8" stroke-width="1"  points="202.1,302.2 201,307.6 196.7,315.1 193.5,321.6 189.2,328 185.9,333.4 184.9,339.8 178,345 170,349.9"/><polyline fill="none" stroke="#ffe4d8" stroke-width="1"  points="317.4,213.6 309.9,219 306.7,226.5 301.3,234 300.2,240.4 295.9,246.9 291.6,252.3 285.2,257.6 283,261.9 279.8,268.4 276.6,274.8 273,282 268,293 265.5,302.9"/><polyline fill="none" stroke="#ffe4d8" stroke-width="1"  points="264.7,313.5 263.8,320 260.5,330 263,338.3 266.3,346.6 269.6,353.2 271.3,358.2 276.2,363.2 280.4,359.8 279.6,355.7 273,355.7"/><polyline fill="none" stroke="#ffe4d8" stroke-width="1"  points="265.5,334.9 268.8,334.1 271.3,341.6 269.6,347.4 266.3,344.9 264.6,338.3 265.5,334.9"/><polyline fill="none" stroke="#ffe4d8" stroke-width="1"  points="305.6,260.3 302.4,266.2 299.2,274.8 295,284 292,291.3"/><polyline fill="none" stroke="#ffe4d8" stroke-width="1"  points="286.2,302.9 284.6,312.9 283.7,320 284.6,326.6 282.9,333.3 286.2,336.6 289.5,334.9"/><polyline fill="none" stroke="#ffe4d8" stroke-width="1"  points="170,359.8 180,361.5 186.6,366.5 193.2,369.8 199.9,374.8 203.2,381.4 201.5,386.4 191.6,394.7 180,399.7 170,401.3"/><polyline fill="none" stroke="#ffe4d8" stroke-width="1"  points="170,368.1 186.6,368.1 196.6,371.5 200.7,376.4 199.9,381.4 194.9,386.4 186.6,391.4 170,393"/><polyline fill="none" stroke="#ffe4d8" stroke-width="1"  points="231.4,373.1 236.4,374 241.4,379.8 245.5,384.7 247.2,393 246.4,399.7 241.4,404.7 238.1,408 228.1,406.3 219.8,401.3 216.5,396.4 219.8,389.7 226.4,383.1 229.8,376.4 231.4,373.1"/><polyline fill="none" stroke="#ffe4d8" stroke-width="1"  points="259.6,428.7 266.3,428.7"/><polyline fill="none" stroke="#ffe4d8" stroke-width="1"  points="0,346.6 6.6,343.2 16.6,341.6 31.5,342.4 34.9,348.2 35.7,352.4 43.2,353.2 54.8,350.7 66.4,344.9"/><polyline fill="none" stroke="#ffe4d8" stroke-width="1"  points="0,376.4 5,371.5 11.6,369.8 18.3,371.5 24.9,368.1 31.5,370.6 38.2,373.1 49.8,372.3 61.4,368.1"/><polyline fill="none" stroke="#ffe4d8" stroke-width="1"  points="0,386.4 16.6,387.2 26.6,388.9 38.2,386.4 49.8,381.4 66.4,374.8 79.7,368.1 93,361.5 100,357"/><polyline fill="none" stroke="#ffe4d8" stroke-width="1"  points="24.9,394.7 41.5,389.7 58.1,383.1 74.7,374.8 91.3,367.3 104.6,362.3"/><polyline fill="none" stroke="#ffe4d8" stroke-width="1"  points="39.8,393 54.8,388.1 69.7,381.4 83,374.8 99.6,368.1 114.5,363.2 122.8,355.7 122.8,351.5 116.2,349.9"/><polyline fill="none" stroke="#ffe4d8" stroke-width="1"  points="58.1,397.2 66.4,393 69.7,386.4 83,383.1 91.3,376.4 97.9,371.5 114.5,364.8"/><polyline fill="none" stroke="#ffe4d8" stroke-width="1"  points="86.3,399.7 88,391.4 90.5,383.1 94.6,376.4 106.2,369.8 116.2,364.8 132.8,358.2 149.4,348.2 166,338.3 170,334.9"/><polyline fill="none" stroke="#ffe4d8" stroke-width="1"  points="107.9,401.3 119.5,393 129.5,389.7 132.8,391.4 137.8,396.4 149.4,404.7 159.4,406.3 170,403"/><polyline fill="none" stroke="#ffe4d8" stroke-width="1"  points="141.1,386.4 144.4,378.1 152.7,373.1 166,368.1 170,368.1"/><polyline fill="none" stroke="#00bfff" stroke-width="1"  points="0,219.5 4,213.5 10,212 18,212.5 24,216"/><polyline fill="none" stroke="#00bfff" stroke-width="1"  points="0,224.5 6,222"/><polyline fill="none" stroke="#00bfff" stroke-width="1"  points="75.2,244.7 79.5,242.1 89.2,240.4 96.7,240.2 103.1,242.1 105.8,245.3 103.1,252.3 96.7,260.9 93.5,268.4 91.3,274.8 89,281 84,283"/><polyline fill="none" stroke="#00bfff" stroke-width="1"  points="75.2,244.7 75.7,252.3 77.3,260.9 79,269.5 80,274.8 82,280 84,284"/><polyline fill="none" stroke="#00bfff" stroke-width="1"  points="90.5,341.6 93,336.6 102.9,334.9 112.9,335.8 117.9,338.3"/><polyline fill="none" stroke="#00bfff" stroke-width="1"  points="90.5,341.6 93,346.6 99.6,347.4"/><polyline fill="none" stroke="#00bfff" stroke-width="1"  points="41.5,374.8 49.8,360.7 66.4,357.4 68.1,361.5 61.4,369.8 54.8,369.8 49.8,373.1"/><polyline fill="none" stroke="#00bfff" stroke-width="1"  points="41.5,374.8 44.8,375.6"/><polyline fill="none" stroke="#00bfff" stroke-width="1"  points="3.3,387 3.3,394"/><polyline fill="none" stroke="#00bfff" stroke-width="1"  points="7.5,387 7.5,394"/><polyline fill="none" stroke="#00bfff" stroke-width="1"  points="11.6,387 11.6,394"/><polyline fill="none" stroke="#00bfff" stroke-width="1"  points="17.4,394.7 21.6,388"/><polyline fill="none" stroke="#00bfff" stroke-width="1"  points="30.7,395.5 35.7,389"/><text x="73" y="246" textLength="17" lengthAdjust="spacingAndGlyphs" style="font-family:'Liberation Sans';font-weight:bold;font-size:11.5px;fill:#ffe4d8;stroke:#ffe4d8;stroke-width:.3px">295</text><text x="87" y="255" textLength="17" lengthAdjust="spacingAndGlyphs" style="font-family:'Liberation Sans';font-weight:bold;font-size:11.5px;fill:#ffe4d8;stroke:#ffe4d8;stroke-width:.3px">300</text><text x="87" y="275.5" textLength="17" lengthAdjust="spacingAndGlyphs" style="font-family:'Liberation Sans';font-weight:bold;font-size:11.5px;fill:#ffe4d8;stroke:#ffe4d8;stroke-width:.3px">305</text><text x="98" y="277" textLength="17" lengthAdjust="spacingAndGlyphs" style="font-family:'Liberation Sans';font-weight:bold;font-size:11.5px;fill:#ffe4d8;stroke:#ffe4d8;stroke-width:.3px">310</text><text x="41.5" y="294" textLength="17" lengthAdjust="spacingAndGlyphs" style="font-family:'Liberation Sans';font-weight:bold;font-size:11.5px;fill:#ffe4d8;stroke:#ffe4d8;stroke-width:.3px">305</text><text x="105.6" y="298.4" textLength="17" lengthAdjust="spacingAndGlyphs" style="font-family:'Liberation Sans';font-weight:bold;font-size:11.5px;fill:#ffe4d8;stroke:#ffe4d8;stroke-width:.3px">315</text><text x="110" y="316" textLength="17" lengthAdjust="spacingAndGlyphs" style="font-family:'Liberation Sans';font-weight:bold;font-size:11.5px;fill:#ffe4d8;stroke:#ffe4d8;stroke-width:.3px">320</text><text x="122" y="324.5" textLength="17" lengthAdjust="spacingAndGlyphs" style="font-family:'Liberation Sans';font-weight:bold;font-size:11.5px;fill:#ffe4d8;stroke:#ffe4d8;stroke-width:.3px">325</text><text x="100.6" y="360.4" textLength="17" lengthAdjust="spacingAndGlyphs" style="font-family:'Liberation Sans';font-weight:bold;font-size:11.5px;fill:#ffe4d8;stroke:#ffe4d8;stroke-width:.3px">335</text><text x="107" y="386.6" textLength="17" lengthAdjust="spacingAndGlyphs" style="font-family:'Liberation Sans';font-weight:bold;font-size:11.5px;fill:#ffe4d8;stroke:#ffe4d8;stroke-width:.3px">340</text><text x="151" y="392.4" textLength="17" lengthAdjust="spacingAndGlyphs" style="font-family:'Liberation Sans';font-weight:bold;font-size:11.5px;fill:#ffe4d8;stroke:#ffe4d8;stroke-width:.3px">340</text><text x="128.8" y="402.3" textLength="17" lengthAdjust="spacingAndGlyphs" style="font-family:'Liberation Sans';font-weight:bold;font-size:11.5px;fill:#ffe4d8;stroke:#ffe4d8;stroke-width:.3px">335</text><text x="215.8" y="241.3" textLength="17" lengthAdjust="spacingAndGlyphs" style="font-family:'Liberation Sans';font-weight:bold;font-size:11.5px;fill:#ffe4d8;stroke:#ffe4d8;stroke-width:.3px">330</text><text x="194" y="299.6" textLength="17" lengthAdjust="spacingAndGlyphs" style="font-family:'Liberation Sans';font-weight:bold;font-size:11.5px;fill:#ffe4d8;stroke:#ffe4d8;stroke-width:.3px">335</text><text x="279" y="300.6" textLength="17" lengthAdjust="spacingAndGlyphs" style="font-family:'Liberation Sans';font-weight:bold;font-size:11.5px;fill:#ffe4d8;stroke:#ffe4d8;stroke-width:.3px">320</text><text x="255" y="313.5" textLength="17" lengthAdjust="spacingAndGlyphs" style="font-family:'Liberation Sans';font-weight:bold;font-size:11.5px;fill:#ffe4d8;stroke:#ffe4d8;stroke-width:.3px">325</text><text x="201.5" y="359.4" textLength="17" lengthAdjust="spacingAndGlyphs" style="font-family:'Liberation Sans';font-weight:bold;font-size:11.5px;fill:#ffe4d8;stroke:#ffe4d8;stroke-width:.3px">325</text><text x="209" y="371.7" textLength="17" lengthAdjust="spacingAndGlyphs" style="font-family:'Liberation Sans';font-weight:bold;font-size:11.5px;fill:#ffe4d8;stroke:#ffe4d8;stroke-width:.3px">325</text><text x="229" y="395" textLength="17" lengthAdjust="spacingAndGlyphs" style="font-family:'Liberation Sans';font-weight:bold;font-size:11.5px;fill:#ffe4d8;stroke:#ffe4d8;stroke-width:.3px">335</text><text x="228.4" y="415.8" textLength="17" lengthAdjust="spacingAndGlyphs" style="font-family:'Liberation Sans';font-weight:bold;font-size:11.5px;fill:#ffe4d8;stroke:#ffe4d8;stroke-width:.3px">330</text><text x="236.4" y="425" textLength="17" lengthAdjust="spacingAndGlyphs" style="font-family:'Liberation Sans';font-weight:bold;font-size:11.5px;fill:#ffe4d8;stroke:#ffe4d8;stroke-width:.3px">330</text><text x="3" y="224" textLength="17" lengthAdjust="spacingAndGlyphs" style="font-family:'Liberation Sans';font-weight:bold;font-size:11.5px;fill:#00bfff;stroke:#00bfff;stroke-width:.3px">-15</text><text x="77" y="293.6" textLength="17" lengthAdjust="spacingAndGlyphs" style="font-family:'Liberation Sans';font-weight:bold;font-size:11.5px;fill:#00bfff;stroke:#00bfff;stroke-width:.3px">-15</text><text x="101" y="348.4" textLength="17" lengthAdjust="spacingAndGlyphs" style="font-family:'Liberation Sans';font-weight:bold;font-size:11.5px;fill:#00bfff;stroke:#00bfff;stroke-width:.3px">-15</text><text x="45" y="376.6" textLength="17" lengthAdjust="spacingAndGlyphs" style="font-family:'Liberation Sans';font-weight:bold;font-size:11.5px;fill:#00bfff;stroke:#00bfff;stroke-width:.3px">-15</text><text x="21.6" y="386.6" textLength="17" lengthAdjust="spacingAndGlyphs" style="font-family:'Liberation Sans';font-weight:bold;font-size:11.5px;fill:#00bfff;stroke:#00bfff;stroke-width:.3px">-15</text>

<polyline fill="none" stroke="#ffe4d8" stroke-width="1"  points="522.5,225.7 534.9,224.9 551.5,219.9 566.4,214.1 578.9,209.1"/><polyline fill="none" stroke="#ffe4d8" stroke-width="1"  points="522.5,253.1 533.2,249 551.5,242.3 568.1,235.7 583,229.9 591.3,225.7"/><polyline fill="none" stroke="#ffe4d8" stroke-width="1"  points="605,213.3 609.6,210.3 613.8,208"/><polyline fill="none" stroke="#ffe4d8" stroke-width="1"  points="522.5,280.5 534.9,275.5 551.5,268.1 576.4,257.3 593,248.1 600.5,244"/><polyline fill="none" stroke="#ffe4d8" stroke-width="1"  points="613.8,235.2 626.2,223.2 642.8,208"/><polyline fill="none" stroke="#ffe4d8" stroke-width="1"  points="522,312.2 534,306.5 545.4,301.4 559.8,294.6 576.4,286.5 593,276.4 609.6,267.2 615.4,263.9"/><polyline fill="none" stroke="#ffe4d8" stroke-width="1"  points="628.7,254 642.8,241.5 659.4,224.9 676,209.1 677.7,208"/><polyline fill="none" stroke="#ffe4d8" stroke-width="1"  points="522,345.2 532.7,340.8 545.4,334.4 558.1,328.1 570.8,323 583.5,318.6 591.1,314.8 601.2,310.3 613.9,302.7 625.4,295.1 634,288.5"/><polyline fill="none" stroke="#ffe4d8" stroke-width="1"  points="648.6,278 659.4,268.1 676,254.8 680,251.5 696.6,235.7 724,208"/><polyline fill="none" stroke="#ffe4d8" stroke-width="1"  points="522,379.4 532.7,376.8 545.4,371.1 558.1,365.4 570.8,359.7 583.5,354 596.2,348.9 608.9,344.4 620,340 632.7,332.4 645.4,323.5 659.4,314.6"/><polyline fill="none" stroke="#ffe4d8" stroke-width="1"  points="672,305.1 683.5,295.5 696.2,284.8 708.9,274 713.2,266.4 729.8,253.1 746.4,243.2 759.7,237.4 773,235.2 787.9,235.7 804.5,238.2 821.1,239.8 827.8,243.5 831.1,243"/><polyline fill="none" stroke="#ffe4d8" stroke-width="1"  points="631.7,403 641.9,399.2 650.8,394.7 658.4,389.7 666,383.3 671.1,378.2 676.2,372.5 682.5,368.1 688.9,366.2 693.9,366.8 697.8,370.6 701.6,373.8 705.4,375.1 709.2,377"/><polyline fill="none" stroke="#ffe4d8" stroke-width="1"  points="675.5,374.4 678.7,373.2 686.3,377 693.9,378.2 700.3,377.6 696.5,379.5 688.9,379.5 683.8,382 678.7,381.4 675.5,377.6 675.5,374.4"/><polyline fill="none" stroke="#ffe4d8" stroke-width="1"  points="804.5,354.5 796.2,354 786.3,352.8 779.6,354.8 771.3,357.3 763,356.4 753,354 741.4,353.5 713.2,354.5 704.9,355.6 702.4,358.1 702.4,361.4 704.9,365.6 719.8,366.4 726.5,365.6 729,368.1 728.1,378 724.8,380 712,380.5 708.5,378 709.2,374"/><polyline fill="none" stroke="#f4a24c" stroke-width="2" stroke-linejoin="round" points="601.3,207.5 608,218.3 612.1,233.2 614.6,248.1 615.4,263.1 613.8,274.7 611.3,286.3 610.1,296.3 608.2,300.2 602.5,303.3 594.9,307.8 588.6,310.9 575.9,312.9 568.2,317.3 560.6,323 551.7,328.1 545.4,332.5 536.5,340.1 532.7,344.6 530.2,349.7 525.1,356 522,361.7"/><polyline fill="none" stroke="#f4a24c" stroke-width="2" stroke-linejoin="round" points="665.4,208.3 680,219.1 690,229 701.6,238.2 709,246.5 711.3,251 712.8,258 712.6,266 711.5,274 710.2,282 709.5,288"/><polyline fill="none" stroke="#f4a24c" stroke-width="2" stroke-linejoin="round" points="720.7,291.3 729.8,287.2 746.4,274.7 763,259.8 779.6,242.3 796.2,226.6 812,208.5"/><polyline fill="none" stroke="#f4a24c" stroke-width="2" stroke-linejoin="round" points="551.7,395.2 561.9,392 574.6,388.2 580.9,386.3 588.6,385.1 591.1,386.3 596.2,388.9 602.5,389.5 608.9,386.3 619,384.4 624.1,382.2 627.6,381.3 631.2,384 636.8,390.3 640.6,392.2 650.8,392.2 655.9,389.7 660.9,384.6 666,379.5 668.6,374.4 672.4,370 677.4,366.2 682.5,363.3 687.6,363 691.4,364.9 695.2,368.1 696.5,372.5 693.9,375.7 688.9,376.3 682.5,374.4 677.4,373.8 674.9,375.7 675.5,379.5 678.7,383.3 683.8,384 688.9,382 695.2,382.7 701.6,384 707.9,385.9 714.3,386.5 720.6,384.6 728.1,387.2 738.1,384.7 746.4,379.7 751.4,377.2 756.4,378.9 761.3,384.7 766.3,388.8 774.6,389.6 782.9,387.2 792.9,383 798.7,381.3"/><polyline fill="none" stroke="#f4a24c" stroke-width="2" stroke-linejoin="round" points="719,366.4 719,380.5"/><polyline fill="none" stroke="#f4a24c" stroke-width="2" stroke-linejoin="round" points="728.1,368 728.1,379.7"/><polyline fill="none" stroke="#f4a24c" stroke-width="2" stroke-linejoin="round" points="636.8,375 638,371.5 641.5,370"/><text x="579.7" y="208.3" textLength="13.5" lengthAdjust="spacingAndGlyphs" style="font-family:'Liberation Sans';font-size:8.5px;fill:#ffe4d8;stroke:#ffe4d8;stroke-width:.12px;text-rendering:geometricPrecision">540</text><text x="590.5" y="224" textLength="14" lengthAdjust="spacingAndGlyphs" style="font-family:'Liberation Sans';font-size:8.5px;fill:#ffe4d8;stroke:#ffe4d8;stroke-width:.12px;text-rendering:geometricPrecision">546</text><text x="600.5" y="244" textLength="14" lengthAdjust="spacingAndGlyphs" style="font-family:'Liberation Sans';font-size:8.5px;fill:#ffe4d8;stroke:#ffe4d8;stroke-width:.12px;text-rendering:geometricPrecision">552</text><text x="614.6" y="264" textLength="14" lengthAdjust="spacingAndGlyphs" style="font-family:'Liberation Sans';font-size:8.5px;fill:#ffe4d8;stroke:#ffe4d8;stroke-width:.12px;text-rendering:geometricPrecision">558</text><text x="634.5" y="287.2" textLength="14" lengthAdjust="spacingAndGlyphs" style="font-family:'Liberation Sans';font-size:8.5px;fill:#ffe4d8;stroke:#ffe4d8;stroke-width:.12px;text-rendering:geometricPrecision">564</text><text x="659.8" y="313" textLength="13.5" lengthAdjust="spacingAndGlyphs" style="font-family:'Liberation Sans';font-size:8.5px;fill:#ffe4d8;stroke:#ffe4d8;stroke-width:.12px;text-rendering:geometricPrecision">570</text><text x="710.4" y="379" textLength="14.5" lengthAdjust="spacingAndGlyphs" style="font-family:'Liberation Sans';font-size:8.5px;fill:#ffe4d8;stroke:#ffe4d8;stroke-width:.12px;text-rendering:geometricPrecision">576</text><text x="603" y="295.3" textLength="18" lengthAdjust="spacingAndGlyphs" style="font-family:'Liberation Sans';font-size:8.5px;fill:#f4a24c;stroke:#f4a24c;stroke-width:.12px;text-rendering:geometricPrecision">1020</text><text x="567" y="327" textLength="18" lengthAdjust="spacingAndGlyphs" style="font-family:'Liberation Sans';font-size:8.5px;fill:#f4a24c;stroke:#f4a24c;stroke-width:.12px;text-rendering:geometricPrecision">1020</text><text x="701.6" y="294.6" textLength="18" lengthAdjust="spacingAndGlyphs" style="font-family:'Liberation Sans';font-size:8.5px;fill:#f4a24c;stroke:#f4a24c;stroke-width:.12px;text-rendering:geometricPrecision">1016</text><text x="640.6" y="376.3" textLength="18" lengthAdjust="spacingAndGlyphs" style="font-family:'Liberation Sans';font-size:8.5px;fill:#f4a24c;stroke:#f4a24c;stroke-width:.12px;text-rendering:geometricPrecision">1016</text><text x="687.6" y="375.1" textLength="18" lengthAdjust="spacingAndGlyphs" style="font-family:'Liberation Sans';font-size:8.5px;fill:#f4a24c;stroke:#f4a24c;stroke-width:.12px;text-rendering:geometricPrecision">1016</text><text x="703.5" y="361.7" textLength="17.5" lengthAdjust="spacingAndGlyphs" style="font-family:'Liberation Sans';font-size:8.5px;fill:#f4a24c;stroke:#f4a24c;stroke-width:.12px;text-rendering:geometricPrecision">1016</text><text x="708.3" y="393.8" textLength="25" lengthAdjust="spacingAndGlyphs" style="font-family:'Liberation Sans';font-size:10.5px;fill:#f4a24c;stroke:#f4a24c;stroke-width:.12px;text-rendering:geometricPrecision">1015</text>

<!--CAPS-->
<text class="capb" x="169.5" y="549" textLength="165" lengthAdjust="spacingAndGlyphs">F045 850 mb ThetaE, Wind, Conv</text>
<text class="cap" x="106.5" y="570.7" textLength="292" lengthAdjust="spacingAndGlyphs">valid SAT 06Z DEC-30-23 (09Z SREF 12-28-2023)</text>
<text class="cap" x="642.5" y="551" textLength="265" lengthAdjust="spacingAndGlyphs">F045 PMSL, 1000-500 mb Thickness, 6h QPF</text>
<text class="cap" x="629" y="570.7" textLength="292" lengthAdjust="spacingAndGlyphs">valid SAT 06Z DEC-30-23 (09Z SREF 12-28-2023)</text>
</g>
</svg>
</body></html>
